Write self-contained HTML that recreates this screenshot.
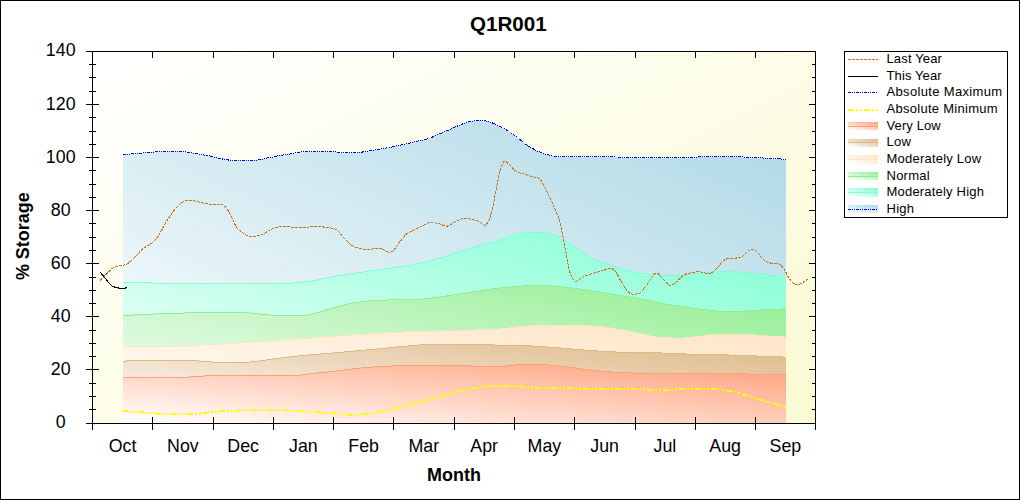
<!DOCTYPE html>
<html><head><meta charset="utf-8"><title>Q1R001</title>
<style>
html,body{margin:0;padding:0;background:#fff;}
body{width:1020px;height:500px;position:relative;overflow:hidden;font-family:"Liberation Sans",sans-serif;}
</style></head><body>
<svg width="1020" height="500" viewBox="0 0 1020 500" style="position:absolute;left:0;top:0;display:block">
<defs>
<linearGradient id="gchart" x1="0" y1="0" x2="1" y2="1"><stop offset="0" stop-color="#FFFFFF"/><stop offset="1" stop-color="#FAFAD2"/></linearGradient>
<linearGradient id="ghigh" x1="0" y1="1" x2="1" y2="0"><stop offset="0" stop-color="#FFFFFF"/><stop offset="1" stop-color="#ADD8E6"/></linearGradient>
<linearGradient id="gmhigh" x1="0" y1="1" x2="1" y2="0"><stop offset="0" stop-color="#FFFFFF"/><stop offset="1" stop-color="#7FFFD4"/></linearGradient>
<linearGradient id="gnormal" x1="0" y1="1" x2="1" y2="0"><stop offset="0" stop-color="#FFFFFF"/><stop offset="1" stop-color="#90EE90"/></linearGradient>
<linearGradient id="gmlow" x1="0" y1="1" x2="1" y2="0"><stop offset="0" stop-color="#FFFFFF"/><stop offset="1" stop-color="#FFE4C4"/></linearGradient>
<linearGradient id="glow" x1="0" y1="1" x2="1" y2="0"><stop offset="0" stop-color="#FFFFFF"/><stop offset="1" stop-color="#DEB887"/></linearGradient>
<linearGradient id="gvlow" x1="0" y1="1" x2="1" y2="0"><stop offset="0" stop-color="#FFFFFF"/><stop offset="1" stop-color="#FFA07A"/></linearGradient>
</defs>
<rect x="0" y="0" width="1020" height="500" fill="#FFFFFF"/>
<rect x="0.5" y="0.5" width="1019" height="499" fill="none" stroke="#000" stroke-width="1" shape-rendering="crispEdges"/>
<rect x="92" y="51" width="724" height="373" fill="url(#gchart)" shape-rendering="crispEdges"/>
<g shape-rendering="crispEdges">
<path d="M123,154.5 L124,154.4 L125,154.4 L126,154.3 L127,154.2 L128,154.1 L129,154.1 L130,154.0 L131,153.9 L132,153.8 L133,153.8 L134,153.7 L135,153.6 L136,153.5 L137,153.5 L138,153.4 L139,153.3 L140,153.2 L141,153.2 L142,153.1 L143,153.0 L144,152.9 L145,152.9 L146,152.8 L147,152.7 L148,152.6 L149,152.5 L150,152.4 L151,152.3 L152,152.2 L153,152.1 L154,152.0 L155,151.9 L156,151.8 L157,151.8 L158,151.7 L159,151.6 L160,151.6 L161,151.6 L162,151.5 L163,151.5 L164,151.5 L165,151.5 L166,151.5 L167,151.5 L168,151.5 L169,151.5 L170,151.5 L171,151.5 L172,151.5 L173,151.5 L174,151.5 L175,151.5 L176,151.5 L177,151.5 L178,151.5 L179,151.5 L180,151.5 L181,151.5 L182,151.6 L183,151.6 L184,151.7 L185,151.8 L186,152.0 L187,152.1 L188,152.3 L189,152.5 L190,152.6 L191,152.8 L192,153.0 L193,153.2 L194,153.4 L195,153.5 L196,153.7 L197,153.9 L198,154.0 L199,154.2 L200,154.3 L201,154.5 L202,154.7 L203,154.8 L204,155.0 L205,155.2 L206,155.4 L207,155.5 L208,155.7 L209,155.9 L210,156.1 L211,156.3 L212,156.5 L213,156.7 L214,156.9 L215,157.2 L216,157.4 L217,157.7 L218,158.0 L219,158.2 L220,158.5 L221,158.7 L222,158.9 L223,159.1 L224,159.3 L225,159.5 L226,159.6 L227,159.8 L228,159.9 L229,160.1 L230,160.2 L231,160.4 L232,160.5 L233,160.6 L234,160.6 L235,160.7 L236,160.7 L237,160.7 L238,160.7 L239,160.7 L240,160.7 L241,160.7 L242,160.7 L243,160.7 L244,160.7 L245,160.7 L246,160.7 L247,160.7 L248,160.7 L249,160.7 L250,160.7 L251,160.7 L252,160.7 L253,160.7 L254,160.6 L255,160.5 L256,160.4 L257,160.2 L258,160.0 L259,159.8 L260,159.6 L261,159.4 L262,159.2 L263,158.9 L264,158.7 L265,158.5 L266,158.3 L267,158.1 L268,157.9 L269,157.7 L270,157.5 L271,157.3 L272,157.1 L273,156.9 L274,156.7 L275,156.5 L276,156.3 L277,156.1 L278,155.9 L279,155.7 L280,155.5 L281,155.3 L282,155.2 L283,155.0 L284,154.9 L285,154.7 L286,154.6 L287,154.4 L288,154.3 L289,154.1 L290,154.0 L291,153.8 L292,153.6 L293,153.5 L294,153.3 L295,153.1 L296,152.9 L297,152.7 L298,152.5 L299,152.3 L300,152.2 L301,152.0 L302,151.8 L303,151.7 L304,151.6 L305,151.5 L306,151.5 L307,151.5 L308,151.5 L309,151.5 L310,151.5 L311,151.5 L312,151.5 L313,151.5 L314,151.5 L315,151.5 L316,151.5 L317,151.5 L318,151.5 L319,151.5 L320,151.5 L321,151.5 L322,151.5 L323,151.5 L324,151.5 L325,151.5 L326,151.5 L327,151.5 L328,151.5 L329,151.5 L330,151.5 L331,151.5 L332,151.5 L333,151.5 L334,151.5 L335,151.7 L336,152.0 L337,152.3 L338,152.5 L339,152.5 L340,152.5 L341,152.5 L342,152.5 L343,152.5 L344,152.5 L345,152.5 L346,152.5 L347,152.5 L348,152.5 L349,152.5 L350,152.5 L351,152.5 L352,152.5 L353,152.5 L354,152.5 L355,152.5 L356,152.5 L357,152.5 L358,152.4 L359,152.4 L360,152.3 L361,152.2 L362,152.1 L363,151.9 L364,151.8 L365,151.6 L366,151.5 L367,151.3 L368,151.1 L369,151.0 L370,150.8 L371,150.6 L372,150.5 L373,150.4 L374,150.2 L375,150.0 L376,149.9 L377,149.7 L378,149.5 L379,149.4 L380,149.2 L381,149.0 L382,148.8 L383,148.7 L384,148.5 L385,148.3 L386,148.1 L387,147.9 L388,147.7 L389,147.5 L390,147.3 L391,147.2 L392,147.0 L393,146.8 L394,146.6 L395,146.4 L396,146.1 L397,145.9 L398,145.7 L399,145.5 L400,145.3 L401,145.1 L402,144.9 L403,144.6 L404,144.4 L405,144.2 L406,143.9 L407,143.7 L408,143.4 L409,143.2 L410,142.9 L411,142.7 L412,142.5 L413,142.2 L414,142.0 L415,141.7 L416,141.5 L417,141.3 L418,141.0 L419,140.8 L420,140.6 L421,140.4 L422,140.2 L423,140.0 L424,139.7 L425,139.5 L426,139.3 L427,139.0 L428,138.7 L429,138.4 L430,138.0 L431,137.6 L432,137.2 L433,136.8 L434,136.4 L435,136.0 L436,135.5 L437,135.1 L438,134.6 L439,134.1 L440,133.7 L441,133.3 L442,132.8 L443,132.4 L444,132.0 L445,131.5 L446,131.1 L447,130.6 L448,130.2 L449,129.7 L450,129.2 L451,128.7 L452,128.3 L453,127.9 L454,127.4 L455,127.0 L456,126.6 L457,126.2 L458,125.8 L459,125.4 L460,125.0 L461,124.6 L462,124.2 L463,123.8 L464,123.5 L465,123.2 L466,122.8 L467,122.4 L468,122.1 L469,121.8 L470,121.5 L471,121.3 L472,121.1 L473,121.0 L474,120.8 L475,120.7 L476,120.5 L477,120.4 L478,120.4 L479,120.3 L480,120.3 L481,120.3 L482,120.4 L483,120.5 L484,120.7 L485,120.9 L486,121.1 L487,121.3 L488,121.5 L489,121.7 L490,122.0 L491,122.4 L492,122.8 L493,123.2 L494,123.6 L495,124.1 L496,124.5 L497,125.0 L498,125.5 L499,126.0 L500,126.5 L501,127.0 L502,127.5 L503,128.1 L504,128.6 L505,129.1 L506,129.7 L507,130.3 L508,130.9 L509,131.5 L510,132.1 L511,132.8 L512,133.5 L513,134.2 L514,135.0 L515,135.8 L516,136.6 L517,137.4 L518,138.2 L519,138.9 L520,139.7 L521,140.5 L522,141.2 L523,142.0 L524,142.8 L525,143.6 L526,144.4 L527,145.1 L528,145.8 L529,146.5 L530,147.1 L531,147.7 L532,148.3 L533,148.8 L534,149.3 L535,149.8 L536,150.3 L537,150.8 L538,151.2 L539,151.7 L540,152.1 L541,152.5 L542,152.9 L543,153.3 L544,153.7 L545,154.0 L546,154.4 L547,154.7 L548,154.9 L549,155.1 L550,155.4 L551,155.6 L552,155.8 L553,156.0 L554,156.2 L555,156.3 L556,156.4 L557,156.5 L558,156.5 L559,156.5 L560,156.5 L561,156.5 L562,156.5 L563,156.5 L564,156.5 L565,156.5 L566,156.5 L567,156.5 L568,156.5 L569,156.5 L570,156.5 L571,156.5 L572,156.5 L573,156.5 L574,156.5 L575,156.5 L576,156.5 L577,156.5 L578,156.5 L579,156.5 L580,156.5 L581,156.5 L582,156.5 L583,156.5 L584,156.5 L585,156.5 L586,156.5 L587,156.5 L588,156.5 L589,156.5 L590,156.5 L591,156.5 L592,156.5 L593,156.5 L594,156.5 L595,156.5 L596,156.5 L597,156.5 L598,156.5 L599,156.5 L600,156.5 L601,156.5 L602,156.5 L603,156.5 L604,156.5 L605,156.5 L606,156.5 L607,156.5 L608,156.5 L609,156.5 L610,156.5 L611,156.5 L612,156.5 L613,156.5 L614,156.5 L615,156.5 L616,156.5 L617,157.0 L618,157.5 L619,157.5 L620,157.5 L621,157.5 L622,157.5 L623,157.5 L624,157.5 L625,157.5 L626,157.5 L627,157.5 L628,157.5 L629,157.5 L630,157.5 L631,157.5 L632,157.5 L633,157.5 L634,157.5 L635,157.5 L636,157.5 L637,157.5 L638,157.5 L639,157.5 L640,157.5 L641,157.5 L642,157.5 L643,157.5 L644,157.5 L645,157.5 L646,157.5 L647,157.5 L648,157.5 L649,157.5 L650,157.5 L651,157.5 L652,157.5 L653,157.5 L654,157.5 L655,157.5 L656,157.5 L657,157.5 L658,157.5 L659,157.5 L660,157.5 L661,157.5 L662,157.5 L663,157.5 L664,157.5 L665,157.5 L666,157.5 L667,157.5 L668,157.5 L669,157.5 L670,157.5 L671,157.5 L672,157.5 L673,157.5 L674,157.5 L675,157.5 L676,157.5 L677,157.5 L678,157.5 L679,157.5 L680,157.5 L681,157.5 L682,157.5 L683,157.5 L684,157.5 L685,157.5 L686,157.5 L687,157.5 L688,157.5 L689,157.5 L690,157.5 L691,157.5 L692,157.5 L693,157.5 L694,157.5 L695,157.5 L696,157.5 L697,157.0 L698,156.5 L699,156.5 L700,156.5 L701,156.5 L702,156.5 L703,156.5 L704,156.5 L705,156.5 L706,156.5 L707,156.5 L708,156.5 L709,156.5 L710,156.5 L711,156.5 L712,156.5 L713,156.5 L714,156.5 L715,156.5 L716,156.5 L717,156.5 L718,156.5 L719,156.5 L720,156.5 L721,156.5 L722,156.5 L723,156.5 L724,156.5 L725,156.5 L726,156.5 L727,156.5 L728,156.5 L729,156.5 L730,156.5 L731,156.5 L732,156.5 L733,156.5 L734,156.5 L735,156.5 L736,156.5 L737,156.5 L738,156.5 L739,156.5 L740,156.5 L741,156.5 L742,156.5 L743,157.0 L744,157.5 L745,157.5 L746,157.5 L747,157.5 L748,157.5 L749,157.5 L750,157.5 L751,157.5 L752,157.5 L753,157.5 L754,157.5 L755,157.5 L756,157.5 L757,157.5 L758,157.5 L759,157.5 L760,157.5 L761,157.5 L762,157.5 L763,158.1 L764,158.7 L765,158.7 L766,158.7 L767,158.7 L768,158.7 L769,158.7 L770,158.7 L771,158.7 L772,158.7 L773,158.7 L774,158.7 L775,158.7 L776,158.7 L777,158.7 L778,158.7 L779,158.7 L780,158.7 L781,159.2 L782,159.7 L783,159.7 L784,159.7 L785,159.7 L786,159.7 L786,423.5 L123,423.5 Z" fill="url(#ghigh)" stroke="none"/>
<path d="M123,282.6 L124,282.6 L125,282.6 L126,282.6 L127,282.6 L128,282.6 L129,282.6 L130,282.6 L131,282.6 L132,282.6 L133,282.6 L134,282.7 L135,282.7 L136,282.7 L137,282.7 L138,282.7 L139,282.7 L140,282.7 L141,282.7 L142,282.8 L143,282.8 L144,282.8 L145,282.8 L146,282.8 L147,282.8 L148,282.9 L149,282.9 L150,282.9 L151,282.9 L152,283.0 L153,283.1 L154,283.2 L155,283.2 L156,283.3 L157,283.4 L158,283.4 L159,283.4 L160,283.4 L161,283.4 L162,283.4 L163,283.5 L164,283.5 L165,283.5 L166,283.5 L167,283.5 L168,283.5 L169,283.5 L170,283.5 L171,283.5 L172,283.5 L173,283.5 L174,283.5 L175,283.5 L176,283.5 L177,283.5 L178,283.6 L179,283.6 L180,283.6 L181,283.6 L182,283.6 L183,283.6 L184,283.6 L185,283.6 L186,283.6 L187,283.6 L188,283.6 L189,283.6 L190,283.6 L191,283.6 L192,283.6 L193,283.6 L194,283.6 L195,283.6 L196,283.6 L197,283.6 L198,283.6 L199,283.6 L200,283.6 L201,283.6 L202,283.6 L203,283.6 L204,283.6 L205,283.6 L206,283.6 L207,283.6 L208,283.6 L209,283.6 L210,283.6 L211,283.6 L212,283.6 L213,283.6 L214,283.6 L215,283.6 L216,283.6 L217,283.6 L218,283.6 L219,283.6 L220,283.6 L221,283.6 L222,283.6 L223,283.6 L224,283.6 L225,283.6 L226,283.6 L227,283.6 L228,283.6 L229,283.6 L230,283.6 L231,283.6 L232,283.6 L233,283.6 L234,283.6 L235,283.6 L236,283.6 L237,283.6 L238,283.6 L239,283.6 L240,283.6 L241,283.6 L242,283.6 L243,283.6 L244,283.6 L245,283.6 L246,283.6 L247,283.6 L248,283.6 L249,283.6 L250,283.6 L251,283.6 L252,283.6 L253,283.6 L254,283.6 L255,283.6 L256,283.6 L257,283.6 L258,283.6 L259,283.6 L260,283.6 L261,283.6 L262,283.6 L263,283.6 L264,283.6 L265,283.6 L266,283.6 L267,283.5 L268,283.5 L269,283.5 L270,283.5 L271,283.5 L272,283.5 L273,283.5 L274,283.5 L275,283.5 L276,283.5 L277,283.5 L278,283.5 L279,283.5 L280,283.5 L281,283.5 L282,283.5 L283,283.5 L284,283.5 L285,283.5 L286,283.5 L287,283.5 L288,283.4 L289,283.3 L290,283.1 L291,283.0 L292,282.9 L293,282.8 L294,282.7 L295,282.6 L296,282.5 L297,282.4 L298,282.3 L299,282.3 L300,282.2 L301,282.1 L302,282.0 L303,282.0 L304,281.9 L305,281.8 L306,281.7 L307,281.6 L308,281.5 L309,281.3 L310,281.2 L311,281.0 L312,280.9 L313,280.7 L314,280.5 L315,280.3 L316,280.2 L317,280.0 L318,279.8 L319,279.6 L320,279.3 L321,279.1 L322,278.9 L323,278.7 L324,278.5 L325,278.3 L326,278.1 L327,277.8 L328,277.6 L329,277.4 L330,277.2 L331,277.0 L332,276.8 L333,276.6 L334,276.4 L335,276.3 L336,276.1 L337,275.9 L338,275.8 L339,275.6 L340,275.4 L341,275.3 L342,275.1 L343,275.0 L344,274.8 L345,274.7 L346,274.5 L347,274.4 L348,274.2 L349,274.0 L350,273.9 L351,273.7 L352,273.6 L353,273.5 L354,273.3 L355,273.2 L356,273.0 L357,272.9 L358,272.7 L359,272.6 L360,272.4 L361,272.3 L362,272.1 L363,272.0 L364,271.9 L365,271.7 L366,271.6 L367,271.4 L368,271.3 L369,271.1 L370,271.0 L371,270.8 L372,270.7 L373,270.5 L374,270.4 L375,270.2 L376,270.1 L377,270.0 L378,269.8 L379,269.7 L380,269.5 L381,269.4 L382,269.2 L383,269.1 L384,269.0 L385,268.8 L386,268.7 L387,268.5 L388,268.4 L389,268.3 L390,268.1 L391,268.0 L392,267.9 L393,267.7 L394,267.6 L395,267.5 L396,267.3 L397,267.2 L398,267.0 L399,266.9 L400,266.7 L401,266.6 L402,266.5 L403,266.3 L404,266.2 L405,266.0 L406,265.8 L407,265.7 L408,265.5 L409,265.4 L410,265.2 L411,265.0 L412,264.8 L413,264.7 L414,264.5 L415,264.3 L416,264.1 L417,263.9 L418,263.7 L419,263.5 L420,263.3 L421,263.0 L422,262.8 L423,262.6 L424,262.3 L425,262.1 L426,261.8 L427,261.6 L428,261.3 L429,261.0 L430,260.8 L431,260.5 L432,260.2 L433,259.9 L434,259.7 L435,259.4 L436,259.1 L437,258.8 L438,258.5 L439,258.2 L440,257.9 L441,257.6 L442,257.3 L443,257.0 L444,256.6 L445,256.3 L446,256.0 L447,255.7 L448,255.3 L449,255.0 L450,254.7 L451,254.3 L452,254.0 L453,253.7 L454,253.3 L455,253.0 L456,252.7 L457,252.4 L458,252.1 L459,251.8 L460,251.4 L461,251.1 L462,250.8 L463,250.5 L464,250.2 L465,249.9 L466,249.5 L467,249.2 L468,248.9 L469,248.6 L470,248.3 L471,248.0 L472,247.7 L473,247.4 L474,247.1 L475,246.8 L476,246.5 L477,246.2 L478,245.9 L479,245.6 L480,245.4 L481,245.1 L482,244.8 L483,244.6 L484,244.3 L485,244.0 L486,243.8 L487,243.5 L488,243.2 L489,243.0 L490,242.7 L491,242.4 L492,242.2 L493,241.9 L494,241.6 L495,241.3 L496,241.0 L497,240.7 L498,240.4 L499,240.1 L500,239.8 L501,239.4 L502,239.0 L503,238.7 L504,238.3 L505,237.9 L506,237.5 L507,237.1 L508,236.8 L509,236.4 L510,236.1 L511,235.8 L512,235.5 L513,235.2 L514,234.9 L515,234.6 L516,234.4 L517,234.1 L518,233.9 L519,233.7 L520,233.5 L521,233.3 L522,233.2 L523,233.0 L524,232.8 L525,232.7 L526,232.6 L527,232.4 L528,232.3 L529,232.2 L530,232.2 L531,232.1 L532,232.1 L533,232.1 L534,232.1 L535,232.1 L536,232.1 L537,232.2 L538,232.2 L539,232.2 L540,232.3 L541,232.3 L542,232.4 L543,232.4 L544,232.5 L545,232.6 L546,232.7 L547,232.9 L548,233.2 L549,233.4 L550,233.8 L551,234.1 L552,234.4 L553,234.8 L554,235.1 L555,235.5 L556,235.9 L557,236.3 L558,236.8 L559,237.3 L560,237.9 L561,238.4 L562,239.0 L563,239.5 L564,240.1 L565,240.7 L566,241.3 L567,241.9 L568,242.5 L569,243.2 L570,243.9 L571,244.5 L572,245.2 L573,245.8 L574,246.5 L575,247.2 L576,247.8 L577,248.5 L578,249.2 L579,249.8 L580,250.5 L581,251.2 L582,251.8 L583,252.5 L584,253.1 L585,253.7 L586,254.4 L587,255.0 L588,255.6 L589,256.2 L590,256.9 L591,257.5 L592,258.0 L593,258.6 L594,259.1 L595,259.6 L596,260.1 L597,260.5 L598,261.0 L599,261.4 L600,261.7 L601,262.1 L602,262.5 L603,262.8 L604,263.2 L605,263.5 L606,263.8 L607,264.2 L608,264.5 L609,264.8 L610,265.1 L611,265.5 L612,265.8 L613,266.1 L614,266.4 L615,266.7 L616,267.0 L617,267.3 L618,267.5 L619,267.8 L620,268.1 L621,268.4 L622,268.7 L623,268.9 L624,269.2 L625,269.5 L626,269.7 L627,270.0 L628,270.3 L629,270.5 L630,270.8 L631,271.0 L632,271.3 L633,271.5 L634,271.7 L635,271.9 L636,272.1 L637,272.3 L638,272.5 L639,272.7 L640,272.8 L641,273.0 L642,273.2 L643,273.4 L644,273.5 L645,273.7 L646,273.8 L647,274.0 L648,274.1 L649,274.2 L650,274.3 L651,274.4 L652,274.5 L653,274.6 L654,274.7 L655,274.7 L656,274.8 L657,274.9 L658,275.0 L659,275.0 L660,275.1 L661,275.2 L662,275.2 L663,275.3 L664,275.3 L665,275.4 L666,275.4 L667,275.5 L668,275.5 L669,275.5 L670,275.5 L671,275.5 L672,275.5 L673,275.5 L674,275.5 L675,275.4 L676,275.4 L677,275.4 L678,275.3 L679,275.3 L680,275.3 L681,275.2 L682,275.2 L683,275.1 L684,275.1 L685,275.0 L686,275.0 L687,274.9 L688,274.8 L689,274.6 L690,274.5 L691,274.4 L692,274.2 L693,274.1 L694,273.9 L695,273.8 L696,273.6 L697,273.5 L698,273.3 L699,273.2 L700,273.1 L701,273.0 L702,272.9 L703,272.8 L704,272.7 L705,272.6 L706,272.4 L707,272.3 L708,272.2 L709,272.1 L710,272.0 L711,271.9 L712,271.8 L713,271.7 L714,271.6 L715,271.5 L716,271.4 L717,271.4 L718,271.3 L719,271.2 L720,271.2 L721,271.2 L722,271.1 L723,271.1 L724,271.1 L725,271.1 L726,271.1 L727,271.2 L728,271.2 L729,271.2 L730,271.3 L731,271.4 L732,271.4 L733,271.5 L734,271.6 L735,271.7 L736,271.8 L737,271.9 L738,272.0 L739,272.0 L740,272.1 L741,272.2 L742,272.3 L743,272.4 L744,272.5 L745,272.6 L746,272.7 L747,272.8 L748,272.9 L749,273.0 L750,273.1 L751,273.2 L752,273.3 L753,273.4 L754,273.5 L755,273.6 L756,273.7 L757,273.8 L758,273.9 L759,274.0 L760,274.1 L761,274.2 L762,274.3 L763,274.4 L764,274.5 L765,274.6 L766,274.7 L767,274.8 L768,274.9 L769,275.0 L770,275.1 L771,275.2 L772,275.3 L773,275.3 L774,275.4 L775,275.5 L776,275.6 L777,275.7 L778,275.8 L779,275.9 L780,276.0 L781,276.1 L782,276.2 L783,276.2 L784,276.3 L785,276.4 L786,276.5 L786,423.5 L123,423.5 Z" fill="url(#gmhigh)" stroke="none"/>
<path d="M123,282.6 L124,282.6 L125,282.6 L126,282.6 L127,282.6 L128,282.6 L129,282.6 L130,282.6 L131,282.6 L132,282.6 L133,282.6 L134,282.7 L135,282.7 L136,282.7 L137,282.7 L138,282.7 L139,282.7 L140,282.7 L141,282.7 L142,282.8 L143,282.8 L144,282.8 L145,282.8 L146,282.8 L147,282.8 L148,282.9 L149,282.9 L150,282.9 L151,282.9 L152,283.0 L153,283.1 L154,283.2 L155,283.2 L156,283.3 L157,283.4 L158,283.4 L159,283.4 L160,283.4 L161,283.4 L162,283.4 L163,283.5 L164,283.5 L165,283.5 L166,283.5 L167,283.5 L168,283.5 L169,283.5 L170,283.5 L171,283.5 L172,283.5 L173,283.5 L174,283.5 L175,283.5 L176,283.5 L177,283.5 L178,283.6 L179,283.6 L180,283.6 L181,283.6 L182,283.6 L183,283.6 L184,283.6 L185,283.6 L186,283.6 L187,283.6 L188,283.6 L189,283.6 L190,283.6 L191,283.6 L192,283.6 L193,283.6 L194,283.6 L195,283.6 L196,283.6 L197,283.6 L198,283.6 L199,283.6 L200,283.6 L201,283.6 L202,283.6 L203,283.6 L204,283.6 L205,283.6 L206,283.6 L207,283.6 L208,283.6 L209,283.6 L210,283.6 L211,283.6 L212,283.6 L213,283.6 L214,283.6 L215,283.6 L216,283.6 L217,283.6 L218,283.6 L219,283.6 L220,283.6 L221,283.6 L222,283.6 L223,283.6 L224,283.6 L225,283.6 L226,283.6 L227,283.6 L228,283.6 L229,283.6 L230,283.6 L231,283.6 L232,283.6 L233,283.6 L234,283.6 L235,283.6 L236,283.6 L237,283.6 L238,283.6 L239,283.6 L240,283.6 L241,283.6 L242,283.6 L243,283.6 L244,283.6 L245,283.6 L246,283.6 L247,283.6 L248,283.6 L249,283.6 L250,283.6 L251,283.6 L252,283.6 L253,283.6 L254,283.6 L255,283.6 L256,283.6 L257,283.6 L258,283.6 L259,283.6 L260,283.6 L261,283.6 L262,283.6 L263,283.6 L264,283.6 L265,283.6 L266,283.6 L267,283.5 L268,283.5 L269,283.5 L270,283.5 L271,283.5 L272,283.5 L273,283.5 L274,283.5 L275,283.5 L276,283.5 L277,283.5 L278,283.5 L279,283.5 L280,283.5 L281,283.5 L282,283.5 L283,283.5 L284,283.5 L285,283.5 L286,283.5 L287,283.5 L288,283.4 L289,283.3 L290,283.1 L291,283.0 L292,282.9 L293,282.8 L294,282.7 L295,282.6 L296,282.5 L297,282.4 L298,282.3 L299,282.3 L300,282.2 L301,282.1 L302,282.0 L303,282.0 L304,281.9 L305,281.8 L306,281.7 L307,281.6 L308,281.5 L309,281.3 L310,281.2 L311,281.0 L312,280.9 L313,280.7 L314,280.5 L315,280.3 L316,280.2 L317,280.0 L318,279.8 L319,279.6 L320,279.3 L321,279.1 L322,278.9 L323,278.7 L324,278.5 L325,278.3 L326,278.1 L327,277.8 L328,277.6 L329,277.4 L330,277.2 L331,277.0 L332,276.8 L333,276.6 L334,276.4 L335,276.3 L336,276.1 L337,275.9 L338,275.8 L339,275.6 L340,275.4 L341,275.3 L342,275.1 L343,275.0 L344,274.8 L345,274.7 L346,274.5 L347,274.4 L348,274.2 L349,274.0 L350,273.9 L351,273.7 L352,273.6 L353,273.5 L354,273.3 L355,273.2 L356,273.0 L357,272.9 L358,272.7 L359,272.6 L360,272.4 L361,272.3 L362,272.1 L363,272.0 L364,271.9 L365,271.7 L366,271.6 L367,271.4 L368,271.3 L369,271.1 L370,271.0 L371,270.8 L372,270.7 L373,270.5 L374,270.4 L375,270.2 L376,270.1 L377,270.0 L378,269.8 L379,269.7 L380,269.5 L381,269.4 L382,269.2 L383,269.1 L384,269.0 L385,268.8 L386,268.7 L387,268.5 L388,268.4 L389,268.3 L390,268.1 L391,268.0 L392,267.9 L393,267.7 L394,267.6 L395,267.5 L396,267.3 L397,267.2 L398,267.0 L399,266.9 L400,266.7 L401,266.6 L402,266.5 L403,266.3 L404,266.2 L405,266.0 L406,265.8 L407,265.7 L408,265.5 L409,265.4 L410,265.2 L411,265.0 L412,264.8 L413,264.7 L414,264.5 L415,264.3 L416,264.1 L417,263.9 L418,263.7 L419,263.5 L420,263.3 L421,263.0 L422,262.8 L423,262.6 L424,262.3 L425,262.1 L426,261.8 L427,261.6 L428,261.3 L429,261.0 L430,260.8 L431,260.5 L432,260.2 L433,259.9 L434,259.7 L435,259.4 L436,259.1 L437,258.8 L438,258.5 L439,258.2 L440,257.9 L441,257.6 L442,257.3 L443,257.0 L444,256.6 L445,256.3 L446,256.0 L447,255.7 L448,255.3 L449,255.0 L450,254.7 L451,254.3 L452,254.0 L453,253.7 L454,253.3 L455,253.0 L456,252.7 L457,252.4 L458,252.1 L459,251.8 L460,251.4 L461,251.1 L462,250.8 L463,250.5 L464,250.2 L465,249.9 L466,249.5 L467,249.2 L468,248.9 L469,248.6 L470,248.3 L471,248.0 L472,247.7 L473,247.4 L474,247.1 L475,246.8 L476,246.5 L477,246.2 L478,245.9 L479,245.6 L480,245.4 L481,245.1 L482,244.8 L483,244.6 L484,244.3 L485,244.0 L486,243.8 L487,243.5 L488,243.2 L489,243.0 L490,242.7 L491,242.4 L492,242.2 L493,241.9 L494,241.6 L495,241.3 L496,241.0 L497,240.7 L498,240.4 L499,240.1 L500,239.8 L501,239.4 L502,239.0 L503,238.7 L504,238.3 L505,237.9 L506,237.5 L507,237.1 L508,236.8 L509,236.4 L510,236.1 L511,235.8 L512,235.5 L513,235.2 L514,234.9 L515,234.6 L516,234.4 L517,234.1 L518,233.9 L519,233.7 L520,233.5 L521,233.3 L522,233.2 L523,233.0 L524,232.8 L525,232.7 L526,232.6 L527,232.4 L528,232.3 L529,232.2 L530,232.2 L531,232.1 L532,232.1 L533,232.1 L534,232.1 L535,232.1 L536,232.1 L537,232.2 L538,232.2 L539,232.2 L540,232.3 L541,232.3 L542,232.4 L543,232.4 L544,232.5 L545,232.6 L546,232.7 L547,232.9 L548,233.2 L549,233.4 L550,233.8 L551,234.1 L552,234.4 L553,234.8 L554,235.1 L555,235.5 L556,235.9 L557,236.3 L558,236.8 L559,237.3 L560,237.9 L561,238.4 L562,239.0 L563,239.5 L564,240.1 L565,240.7 L566,241.3 L567,241.9 L568,242.5 L569,243.2 L570,243.9 L571,244.5 L572,245.2 L573,245.8 L574,246.5 L575,247.2 L576,247.8 L577,248.5 L578,249.2 L579,249.8 L580,250.5 L581,251.2 L582,251.8 L583,252.5 L584,253.1 L585,253.7 L586,254.4 L587,255.0 L588,255.6 L589,256.2 L590,256.9 L591,257.5 L592,258.0 L593,258.6 L594,259.1 L595,259.6 L596,260.1 L597,260.5 L598,261.0 L599,261.4 L600,261.7 L601,262.1 L602,262.5 L603,262.8 L604,263.2 L605,263.5 L606,263.8 L607,264.2 L608,264.5 L609,264.8 L610,265.1 L611,265.5 L612,265.8 L613,266.1 L614,266.4 L615,266.7 L616,267.0 L617,267.3 L618,267.5 L619,267.8 L620,268.1 L621,268.4 L622,268.7 L623,268.9 L624,269.2 L625,269.5 L626,269.7 L627,270.0 L628,270.3 L629,270.5 L630,270.8 L631,271.0 L632,271.3 L633,271.5 L634,271.7 L635,271.9 L636,272.1 L637,272.3 L638,272.5 L639,272.7 L640,272.8 L641,273.0 L642,273.2 L643,273.4 L644,273.5 L645,273.7 L646,273.8 L647,274.0 L648,274.1 L649,274.2 L650,274.3 L651,274.4 L652,274.5 L653,274.6 L654,274.7 L655,274.7 L656,274.8 L657,274.9 L658,275.0 L659,275.0 L660,275.1 L661,275.2 L662,275.2 L663,275.3 L664,275.3 L665,275.4 L666,275.4 L667,275.5 L668,275.5 L669,275.5 L670,275.5 L671,275.5 L672,275.5 L673,275.5 L674,275.5 L675,275.4 L676,275.4 L677,275.4 L678,275.3 L679,275.3 L680,275.3 L681,275.2 L682,275.2 L683,275.1 L684,275.1 L685,275.0 L686,275.0 L687,274.9 L688,274.8 L689,274.6 L690,274.5 L691,274.4 L692,274.2 L693,274.1 L694,273.9 L695,273.8 L696,273.6 L697,273.5 L698,273.3 L699,273.2 L700,273.1 L701,273.0 L702,272.9 L703,272.8 L704,272.7 L705,272.6 L706,272.4 L707,272.3 L708,272.2 L709,272.1 L710,272.0 L711,271.9 L712,271.8 L713,271.7 L714,271.6 L715,271.5 L716,271.4 L717,271.4 L718,271.3 L719,271.2 L720,271.2 L721,271.2 L722,271.1 L723,271.1 L724,271.1 L725,271.1 L726,271.1 L727,271.2 L728,271.2 L729,271.2 L730,271.3 L731,271.4 L732,271.4 L733,271.5 L734,271.6 L735,271.7 L736,271.8 L737,271.9 L738,272.0 L739,272.0 L740,272.1 L741,272.2 L742,272.3 L743,272.4 L744,272.5 L745,272.6 L746,272.7 L747,272.8 L748,272.9 L749,273.0 L750,273.1 L751,273.2 L752,273.3 L753,273.4 L754,273.5 L755,273.6 L756,273.7 L757,273.8 L758,273.9 L759,274.0 L760,274.1 L761,274.2 L762,274.3 L763,274.4 L764,274.5 L765,274.6 L766,274.7 L767,274.8 L768,274.9 L769,275.0 L770,275.1 L771,275.2 L772,275.3 L773,275.3 L774,275.4 L775,275.5 L776,275.6 L777,275.7 L778,275.8 L779,275.9 L780,276.0 L781,276.1 L782,276.2 L783,276.2 L784,276.3 L785,276.4 L786,276.5" fill="none" stroke="#7FFFD4" stroke-width="1"/>
<path d="M123,315.7 L124,315.6 L125,315.6 L126,315.5 L127,315.4 L128,315.4 L129,315.3 L130,315.3 L131,315.2 L132,315.1 L133,315.1 L134,315.0 L135,314.9 L136,314.9 L137,314.8 L138,314.8 L139,314.7 L140,314.7 L141,314.6 L142,314.5 L143,314.5 L144,314.4 L145,314.4 L146,314.3 L147,314.3 L148,314.2 L149,314.2 L150,314.1 L151,314.1 L152,314.0 L153,314.0 L154,314.0 L155,313.9 L156,313.9 L157,313.8 L158,313.8 L159,313.7 L160,313.7 L161,313.7 L162,313.6 L163,313.6 L164,313.6 L165,313.5 L166,313.5 L167,313.5 L168,313.4 L169,313.4 L170,313.4 L171,313.3 L172,313.3 L173,313.3 L174,313.3 L175,313.2 L176,313.2 L177,313.2 L178,313.1 L179,313.1 L180,313.1 L181,313.0 L182,313.0 L183,313.0 L184,313.0 L185,312.9 L186,312.9 L187,312.9 L188,312.8 L189,312.8 L190,312.8 L191,312.8 L192,312.8 L193,312.7 L194,312.7 L195,312.7 L196,312.7 L197,312.6 L198,312.6 L199,312.6 L200,312.6 L201,312.6 L202,312.6 L203,312.6 L204,312.5 L205,312.5 L206,312.5 L207,312.5 L208,312.5 L209,312.5 L210,312.5 L211,312.5 L212,312.5 L213,312.5 L214,312.5 L215,312.5 L216,312.5 L217,312.5 L218,312.5 L219,312.5 L220,312.5 L221,312.5 L222,312.5 L223,312.5 L224,312.5 L225,312.5 L226,312.5 L227,312.5 L228,312.5 L229,312.5 L230,312.5 L231,312.5 L232,312.5 L233,312.5 L234,312.5 L235,312.5 L236,312.5 L237,312.5 L238,312.5 L239,312.5 L240,312.5 L241,312.5 L242,312.5 L243,312.6 L244,312.6 L245,312.6 L246,312.7 L247,312.8 L248,312.8 L249,312.9 L250,313.0 L251,313.1 L252,313.2 L253,313.3 L254,313.4 L255,313.5 L256,313.6 L257,313.8 L258,313.9 L259,314.0 L260,314.1 L261,314.2 L262,314.3 L263,314.4 L264,314.5 L265,314.6 L266,314.7 L267,314.8 L268,314.9 L269,314.9 L270,315.0 L271,315.1 L272,315.1 L273,315.1 L274,315.2 L275,315.2 L276,315.3 L277,315.3 L278,315.3 L279,315.4 L280,315.4 L281,315.4 L282,315.5 L283,315.5 L284,315.5 L285,315.6 L286,315.6 L287,315.6 L288,315.6 L289,315.6 L290,315.7 L291,315.7 L292,315.7 L293,315.7 L294,315.7 L295,315.7 L296,315.7 L297,315.7 L298,315.6 L299,315.6 L300,315.5 L301,315.5 L302,315.4 L303,315.3 L304,315.3 L305,315.2 L306,315.1 L307,315.0 L308,314.9 L309,314.7 L310,314.5 L311,314.3 L312,314.1 L313,313.8 L314,313.6 L315,313.3 L316,313.1 L317,312.9 L318,312.6 L319,312.3 L320,312.0 L321,311.7 L322,311.4 L323,311.1 L324,310.8 L325,310.5 L326,310.2 L327,309.8 L328,309.5 L329,309.2 L330,308.9 L331,308.5 L332,308.2 L333,307.9 L334,307.6 L335,307.4 L336,307.1 L337,306.8 L338,306.6 L339,306.3 L340,306.0 L341,305.8 L342,305.5 L343,305.3 L344,305.0 L345,304.7 L346,304.5 L347,304.3 L348,304.0 L349,303.8 L350,303.6 L351,303.4 L352,303.2 L353,303.0 L354,302.8 L355,302.6 L356,302.5 L357,302.4 L358,302.2 L359,302.1 L360,302.0 L361,301.8 L362,301.7 L363,301.6 L364,301.5 L365,301.4 L366,301.3 L367,301.2 L368,301.1 L369,301.0 L370,300.9 L371,300.8 L372,300.8 L373,300.7 L374,300.6 L375,300.6 L376,300.5 L377,300.4 L378,300.4 L379,300.3 L380,300.3 L381,300.2 L382,300.2 L383,300.1 L384,300.1 L385,300.1 L386,300.0 L387,300.0 L388,299.9 L389,299.9 L390,299.9 L391,299.8 L392,299.8 L393,299.8 L394,299.8 L395,299.7 L396,299.7 L397,299.7 L398,299.7 L399,299.6 L400,299.6 L401,299.6 L402,299.6 L403,299.6 L404,299.6 L405,299.6 L406,299.5 L407,299.5 L408,299.5 L409,299.5 L410,299.5 L411,299.5 L412,299.5 L413,299.5 L414,299.4 L415,299.4 L416,299.4 L417,299.4 L418,299.4 L419,299.3 L420,299.3 L421,299.3 L422,299.2 L423,299.1 L424,299.0 L425,298.9 L426,298.8 L427,298.7 L428,298.6 L429,298.5 L430,298.3 L431,298.2 L432,298.0 L433,297.9 L434,297.8 L435,297.6 L436,297.5 L437,297.4 L438,297.2 L439,297.1 L440,297.0 L441,296.8 L442,296.7 L443,296.5 L444,296.4 L445,296.2 L446,296.1 L447,295.9 L448,295.7 L449,295.6 L450,295.4 L451,295.3 L452,295.1 L453,295.0 L454,294.8 L455,294.7 L456,294.5 L457,294.3 L458,294.2 L459,294.0 L460,293.9 L461,293.7 L462,293.6 L463,293.4 L464,293.3 L465,293.1 L466,293.0 L467,292.8 L468,292.7 L469,292.5 L470,292.4 L471,292.2 L472,292.1 L473,291.9 L474,291.8 L475,291.6 L476,291.5 L477,291.3 L478,291.2 L479,291.0 L480,290.9 L481,290.7 L482,290.6 L483,290.4 L484,290.3 L485,290.1 L486,289.9 L487,289.8 L488,289.6 L489,289.5 L490,289.3 L491,289.2 L492,289.0 L493,288.9 L494,288.7 L495,288.6 L496,288.5 L497,288.3 L498,288.2 L499,288.1 L500,288.0 L501,287.9 L502,287.8 L503,287.7 L504,287.6 L505,287.5 L506,287.4 L507,287.3 L508,287.2 L509,287.1 L510,287.0 L511,286.9 L512,286.8 L513,286.7 L514,286.7 L515,286.6 L516,286.5 L517,286.4 L518,286.3 L519,286.3 L520,286.2 L521,286.1 L522,286.0 L523,285.9 L524,285.9 L525,285.8 L526,285.7 L527,285.7 L528,285.6 L529,285.6 L530,285.5 L531,285.5 L532,285.5 L533,285.5 L534,285.5 L535,285.5 L536,285.5 L537,285.5 L538,285.5 L539,285.5 L540,285.6 L541,285.6 L542,285.6 L543,285.6 L544,285.6 L545,285.6 L546,285.7 L547,285.7 L548,285.7 L549,285.7 L550,285.8 L551,285.8 L552,285.9 L553,286.0 L554,286.0 L555,286.1 L556,286.2 L557,286.3 L558,286.4 L559,286.6 L560,286.7 L561,286.8 L562,286.9 L563,287.0 L564,287.1 L565,287.2 L566,287.3 L567,287.4 L568,287.5 L569,287.7 L570,287.8 L571,287.9 L572,288.0 L573,288.2 L574,288.3 L575,288.4 L576,288.6 L577,288.7 L578,288.8 L579,289.0 L580,289.1 L581,289.2 L582,289.4 L583,289.5 L584,289.7 L585,289.8 L586,289.9 L587,290.1 L588,290.2 L589,290.4 L590,290.5 L591,290.7 L592,290.8 L593,291.0 L594,291.2 L595,291.3 L596,291.5 L597,291.6 L598,291.8 L599,291.9 L600,292.1 L601,292.3 L602,292.4 L603,292.6 L604,292.8 L605,292.9 L606,293.1 L607,293.3 L608,293.4 L609,293.6 L610,293.8 L611,294.0 L612,294.1 L613,294.3 L614,294.5 L615,294.6 L616,294.8 L617,295.0 L618,295.2 L619,295.3 L620,295.5 L621,295.7 L622,295.8 L623,296.0 L624,296.2 L625,296.3 L626,296.5 L627,296.6 L628,296.8 L629,296.9 L630,297.1 L631,297.3 L632,297.4 L633,297.6 L634,297.7 L635,297.9 L636,298.1 L637,298.2 L638,298.4 L639,298.6 L640,298.8 L641,298.9 L642,299.1 L643,299.3 L644,299.5 L645,299.7 L646,299.9 L647,300.1 L648,300.4 L649,300.6 L650,300.8 L651,301.1 L652,301.3 L653,301.6 L654,301.8 L655,302.0 L656,302.3 L657,302.5 L658,302.7 L659,302.9 L660,303.1 L661,303.3 L662,303.5 L663,303.6 L664,303.8 L665,303.9 L666,304.1 L667,304.2 L668,304.4 L669,304.5 L670,304.7 L671,304.8 L672,305.0 L673,305.1 L674,305.2 L675,305.4 L676,305.5 L677,305.7 L678,305.8 L679,306.0 L680,306.1 L681,306.3 L682,306.4 L683,306.6 L684,306.7 L685,306.9 L686,307.0 L687,307.2 L688,307.4 L689,307.5 L690,307.7 L691,307.8 L692,308.0 L693,308.1 L694,308.3 L695,308.4 L696,308.6 L697,308.7 L698,308.8 L699,309.0 L700,309.1 L701,309.2 L702,309.4 L703,309.5 L704,309.6 L705,309.8 L706,309.9 L707,310.0 L708,310.1 L709,310.3 L710,310.4 L711,310.5 L712,310.6 L713,310.7 L714,310.8 L715,310.9 L716,311.0 L717,311.0 L718,311.1 L719,311.1 L720,311.1 L721,311.1 L722,311.1 L723,311.1 L724,311.1 L725,311.1 L726,311.1 L727,311.1 L728,311.1 L729,311.1 L730,311.1 L731,311.1 L732,311.1 L733,311.1 L734,311.1 L735,311.1 L736,311.1 L737,311.1 L738,311.1 L739,311.1 L740,311.1 L741,311.1 L742,311.1 L743,311.1 L744,311.0 L745,311.0 L746,310.9 L747,310.9 L748,310.8 L749,310.8 L750,310.7 L751,310.7 L752,310.6 L753,310.5 L754,310.5 L755,310.4 L756,310.3 L757,310.3 L758,310.2 L759,310.2 L760,310.1 L761,310.0 L762,310.0 L763,309.9 L764,309.9 L765,309.8 L766,309.8 L767,309.7 L768,309.7 L769,309.6 L770,309.6 L771,309.5 L772,309.5 L773,309.4 L774,309.4 L775,309.3 L776,309.3 L777,309.2 L778,309.1 L779,309.1 L780,309.0 L781,309.0 L782,308.9 L783,308.9 L784,308.8 L785,308.8 L786,308.7 L786,423.5 L123,423.5 Z" fill="url(#gnormal)" stroke="none"/>
<path d="M123,315.7 L124,315.6 L125,315.6 L126,315.5 L127,315.4 L128,315.4 L129,315.3 L130,315.3 L131,315.2 L132,315.1 L133,315.1 L134,315.0 L135,314.9 L136,314.9 L137,314.8 L138,314.8 L139,314.7 L140,314.7 L141,314.6 L142,314.5 L143,314.5 L144,314.4 L145,314.4 L146,314.3 L147,314.3 L148,314.2 L149,314.2 L150,314.1 L151,314.1 L152,314.0 L153,314.0 L154,314.0 L155,313.9 L156,313.9 L157,313.8 L158,313.8 L159,313.7 L160,313.7 L161,313.7 L162,313.6 L163,313.6 L164,313.6 L165,313.5 L166,313.5 L167,313.5 L168,313.4 L169,313.4 L170,313.4 L171,313.3 L172,313.3 L173,313.3 L174,313.3 L175,313.2 L176,313.2 L177,313.2 L178,313.1 L179,313.1 L180,313.1 L181,313.0 L182,313.0 L183,313.0 L184,313.0 L185,312.9 L186,312.9 L187,312.9 L188,312.8 L189,312.8 L190,312.8 L191,312.8 L192,312.8 L193,312.7 L194,312.7 L195,312.7 L196,312.7 L197,312.6 L198,312.6 L199,312.6 L200,312.6 L201,312.6 L202,312.6 L203,312.6 L204,312.5 L205,312.5 L206,312.5 L207,312.5 L208,312.5 L209,312.5 L210,312.5 L211,312.5 L212,312.5 L213,312.5 L214,312.5 L215,312.5 L216,312.5 L217,312.5 L218,312.5 L219,312.5 L220,312.5 L221,312.5 L222,312.5 L223,312.5 L224,312.5 L225,312.5 L226,312.5 L227,312.5 L228,312.5 L229,312.5 L230,312.5 L231,312.5 L232,312.5 L233,312.5 L234,312.5 L235,312.5 L236,312.5 L237,312.5 L238,312.5 L239,312.5 L240,312.5 L241,312.5 L242,312.5 L243,312.6 L244,312.6 L245,312.6 L246,312.7 L247,312.8 L248,312.8 L249,312.9 L250,313.0 L251,313.1 L252,313.2 L253,313.3 L254,313.4 L255,313.5 L256,313.6 L257,313.8 L258,313.9 L259,314.0 L260,314.1 L261,314.2 L262,314.3 L263,314.4 L264,314.5 L265,314.6 L266,314.7 L267,314.8 L268,314.9 L269,314.9 L270,315.0 L271,315.1 L272,315.1 L273,315.1 L274,315.2 L275,315.2 L276,315.3 L277,315.3 L278,315.3 L279,315.4 L280,315.4 L281,315.4 L282,315.5 L283,315.5 L284,315.5 L285,315.6 L286,315.6 L287,315.6 L288,315.6 L289,315.6 L290,315.7 L291,315.7 L292,315.7 L293,315.7 L294,315.7 L295,315.7 L296,315.7 L297,315.7 L298,315.6 L299,315.6 L300,315.5 L301,315.5 L302,315.4 L303,315.3 L304,315.3 L305,315.2 L306,315.1 L307,315.0 L308,314.9 L309,314.7 L310,314.5 L311,314.3 L312,314.1 L313,313.8 L314,313.6 L315,313.3 L316,313.1 L317,312.9 L318,312.6 L319,312.3 L320,312.0 L321,311.7 L322,311.4 L323,311.1 L324,310.8 L325,310.5 L326,310.2 L327,309.8 L328,309.5 L329,309.2 L330,308.9 L331,308.5 L332,308.2 L333,307.9 L334,307.6 L335,307.4 L336,307.1 L337,306.8 L338,306.6 L339,306.3 L340,306.0 L341,305.8 L342,305.5 L343,305.3 L344,305.0 L345,304.7 L346,304.5 L347,304.3 L348,304.0 L349,303.8 L350,303.6 L351,303.4 L352,303.2 L353,303.0 L354,302.8 L355,302.6 L356,302.5 L357,302.4 L358,302.2 L359,302.1 L360,302.0 L361,301.8 L362,301.7 L363,301.6 L364,301.5 L365,301.4 L366,301.3 L367,301.2 L368,301.1 L369,301.0 L370,300.9 L371,300.8 L372,300.8 L373,300.7 L374,300.6 L375,300.6 L376,300.5 L377,300.4 L378,300.4 L379,300.3 L380,300.3 L381,300.2 L382,300.2 L383,300.1 L384,300.1 L385,300.1 L386,300.0 L387,300.0 L388,299.9 L389,299.9 L390,299.9 L391,299.8 L392,299.8 L393,299.8 L394,299.8 L395,299.7 L396,299.7 L397,299.7 L398,299.7 L399,299.6 L400,299.6 L401,299.6 L402,299.6 L403,299.6 L404,299.6 L405,299.6 L406,299.5 L407,299.5 L408,299.5 L409,299.5 L410,299.5 L411,299.5 L412,299.5 L413,299.5 L414,299.4 L415,299.4 L416,299.4 L417,299.4 L418,299.4 L419,299.3 L420,299.3 L421,299.3 L422,299.2 L423,299.1 L424,299.0 L425,298.9 L426,298.8 L427,298.7 L428,298.6 L429,298.5 L430,298.3 L431,298.2 L432,298.0 L433,297.9 L434,297.8 L435,297.6 L436,297.5 L437,297.4 L438,297.2 L439,297.1 L440,297.0 L441,296.8 L442,296.7 L443,296.5 L444,296.4 L445,296.2 L446,296.1 L447,295.9 L448,295.7 L449,295.6 L450,295.4 L451,295.3 L452,295.1 L453,295.0 L454,294.8 L455,294.7 L456,294.5 L457,294.3 L458,294.2 L459,294.0 L460,293.9 L461,293.7 L462,293.6 L463,293.4 L464,293.3 L465,293.1 L466,293.0 L467,292.8 L468,292.7 L469,292.5 L470,292.4 L471,292.2 L472,292.1 L473,291.9 L474,291.8 L475,291.6 L476,291.5 L477,291.3 L478,291.2 L479,291.0 L480,290.9 L481,290.7 L482,290.6 L483,290.4 L484,290.3 L485,290.1 L486,289.9 L487,289.8 L488,289.6 L489,289.5 L490,289.3 L491,289.2 L492,289.0 L493,288.9 L494,288.7 L495,288.6 L496,288.5 L497,288.3 L498,288.2 L499,288.1 L500,288.0 L501,287.9 L502,287.8 L503,287.7 L504,287.6 L505,287.5 L506,287.4 L507,287.3 L508,287.2 L509,287.1 L510,287.0 L511,286.9 L512,286.8 L513,286.7 L514,286.7 L515,286.6 L516,286.5 L517,286.4 L518,286.3 L519,286.3 L520,286.2 L521,286.1 L522,286.0 L523,285.9 L524,285.9 L525,285.8 L526,285.7 L527,285.7 L528,285.6 L529,285.6 L530,285.5 L531,285.5 L532,285.5 L533,285.5 L534,285.5 L535,285.5 L536,285.5 L537,285.5 L538,285.5 L539,285.5 L540,285.6 L541,285.6 L542,285.6 L543,285.6 L544,285.6 L545,285.6 L546,285.7 L547,285.7 L548,285.7 L549,285.7 L550,285.8 L551,285.8 L552,285.9 L553,286.0 L554,286.0 L555,286.1 L556,286.2 L557,286.3 L558,286.4 L559,286.6 L560,286.7 L561,286.8 L562,286.9 L563,287.0 L564,287.1 L565,287.2 L566,287.3 L567,287.4 L568,287.5 L569,287.7 L570,287.8 L571,287.9 L572,288.0 L573,288.2 L574,288.3 L575,288.4 L576,288.6 L577,288.7 L578,288.8 L579,289.0 L580,289.1 L581,289.2 L582,289.4 L583,289.5 L584,289.7 L585,289.8 L586,289.9 L587,290.1 L588,290.2 L589,290.4 L590,290.5 L591,290.7 L592,290.8 L593,291.0 L594,291.2 L595,291.3 L596,291.5 L597,291.6 L598,291.8 L599,291.9 L600,292.1 L601,292.3 L602,292.4 L603,292.6 L604,292.8 L605,292.9 L606,293.1 L607,293.3 L608,293.4 L609,293.6 L610,293.8 L611,294.0 L612,294.1 L613,294.3 L614,294.5 L615,294.6 L616,294.8 L617,295.0 L618,295.2 L619,295.3 L620,295.5 L621,295.7 L622,295.8 L623,296.0 L624,296.2 L625,296.3 L626,296.5 L627,296.6 L628,296.8 L629,296.9 L630,297.1 L631,297.3 L632,297.4 L633,297.6 L634,297.7 L635,297.9 L636,298.1 L637,298.2 L638,298.4 L639,298.6 L640,298.8 L641,298.9 L642,299.1 L643,299.3 L644,299.5 L645,299.7 L646,299.9 L647,300.1 L648,300.4 L649,300.6 L650,300.8 L651,301.1 L652,301.3 L653,301.6 L654,301.8 L655,302.0 L656,302.3 L657,302.5 L658,302.7 L659,302.9 L660,303.1 L661,303.3 L662,303.5 L663,303.6 L664,303.8 L665,303.9 L666,304.1 L667,304.2 L668,304.4 L669,304.5 L670,304.7 L671,304.8 L672,305.0 L673,305.1 L674,305.2 L675,305.4 L676,305.5 L677,305.7 L678,305.8 L679,306.0 L680,306.1 L681,306.3 L682,306.4 L683,306.6 L684,306.7 L685,306.9 L686,307.0 L687,307.2 L688,307.4 L689,307.5 L690,307.7 L691,307.8 L692,308.0 L693,308.1 L694,308.3 L695,308.4 L696,308.6 L697,308.7 L698,308.8 L699,309.0 L700,309.1 L701,309.2 L702,309.4 L703,309.5 L704,309.6 L705,309.8 L706,309.9 L707,310.0 L708,310.1 L709,310.3 L710,310.4 L711,310.5 L712,310.6 L713,310.7 L714,310.8 L715,310.9 L716,311.0 L717,311.0 L718,311.1 L719,311.1 L720,311.1 L721,311.1 L722,311.1 L723,311.1 L724,311.1 L725,311.1 L726,311.1 L727,311.1 L728,311.1 L729,311.1 L730,311.1 L731,311.1 L732,311.1 L733,311.1 L734,311.1 L735,311.1 L736,311.1 L737,311.1 L738,311.1 L739,311.1 L740,311.1 L741,311.1 L742,311.1 L743,311.1 L744,311.0 L745,311.0 L746,310.9 L747,310.9 L748,310.8 L749,310.8 L750,310.7 L751,310.7 L752,310.6 L753,310.5 L754,310.5 L755,310.4 L756,310.3 L757,310.3 L758,310.2 L759,310.2 L760,310.1 L761,310.0 L762,310.0 L763,309.9 L764,309.9 L765,309.8 L766,309.8 L767,309.7 L768,309.7 L769,309.6 L770,309.6 L771,309.5 L772,309.5 L773,309.4 L774,309.4 L775,309.3 L776,309.3 L777,309.2 L778,309.1 L779,309.1 L780,309.0 L781,309.0 L782,308.9 L783,308.9 L784,308.8 L785,308.8 L786,308.7" fill="none" stroke="#90EE90" stroke-width="1"/>
<path d="M123,346.5 L124,346.5 L125,346.5 L126,346.5 L127,346.5 L128,346.5 L129,346.5 L130,346.5 L131,346.5 L132,346.5 L133,346.5 L134,346.5 L135,346.5 L136,346.5 L137,346.5 L138,346.5 L139,346.4 L140,346.4 L141,346.4 L142,346.4 L143,346.4 L144,346.4 L145,346.4 L146,346.4 L147,346.4 L148,346.4 L149,346.4 L150,346.4 L151,346.4 L152,346.3 L153,346.3 L154,346.3 L155,346.3 L156,346.3 L157,346.3 L158,346.3 L159,346.3 L160,346.3 L161,346.2 L162,346.2 L163,346.2 L164,346.2 L165,346.2 L166,346.2 L167,346.2 L168,346.2 L169,346.1 L170,346.1 L171,346.1 L172,346.1 L173,346.1 L174,346.1 L175,346.0 L176,346.0 L177,346.0 L178,346.0 L179,346.0 L180,345.9 L181,345.9 L182,345.9 L183,345.8 L184,345.8 L185,345.8 L186,345.7 L187,345.7 L188,345.6 L189,345.6 L190,345.6 L191,345.5 L192,345.5 L193,345.4 L194,345.4 L195,345.3 L196,345.3 L197,345.2 L198,345.2 L199,345.1 L200,345.1 L201,345.0 L202,345.0 L203,344.9 L204,344.9 L205,344.8 L206,344.8 L207,344.7 L208,344.7 L209,344.6 L210,344.6 L211,344.5 L212,344.5 L213,344.5 L214,344.4 L215,344.4 L216,344.3 L217,344.2 L218,344.2 L219,344.1 L220,344.1 L221,344.0 L222,344.0 L223,343.9 L224,343.9 L225,343.8 L226,343.7 L227,343.7 L228,343.6 L229,343.6 L230,343.5 L231,343.4 L232,343.4 L233,343.3 L234,343.3 L235,343.2 L236,343.1 L237,343.1 L238,343.0 L239,342.9 L240,342.9 L241,342.8 L242,342.7 L243,342.7 L244,342.6 L245,342.6 L246,342.5 L247,342.4 L248,342.4 L249,342.3 L250,342.2 L251,342.2 L252,342.1 L253,342.0 L254,342.0 L255,341.9 L256,341.8 L257,341.8 L258,341.7 L259,341.6 L260,341.6 L261,341.5 L262,341.4 L263,341.4 L264,341.3 L265,341.2 L266,341.2 L267,341.1 L268,341.0 L269,341.0 L270,340.9 L271,340.8 L272,340.7 L273,340.7 L274,340.6 L275,340.5 L276,340.5 L277,340.4 L278,340.3 L279,340.2 L280,340.2 L281,340.1 L282,340.0 L283,340.0 L284,339.9 L285,339.8 L286,339.7 L287,339.7 L288,339.6 L289,339.5 L290,339.5 L291,339.4 L292,339.3 L293,339.2 L294,339.2 L295,339.1 L296,339.0 L297,339.0 L298,338.9 L299,338.8 L300,338.7 L301,338.7 L302,338.6 L303,338.5 L304,338.4 L305,338.4 L306,338.3 L307,338.2 L308,338.1 L309,338.1 L310,338.0 L311,337.9 L312,337.8 L313,337.8 L314,337.7 L315,337.6 L316,337.5 L317,337.5 L318,337.4 L319,337.3 L320,337.3 L321,337.2 L322,337.1 L323,337.0 L324,337.0 L325,336.9 L326,336.8 L327,336.7 L328,336.7 L329,336.6 L330,336.5 L331,336.5 L332,336.4 L333,336.3 L334,336.2 L335,336.2 L336,336.1 L337,336.0 L338,336.0 L339,335.9 L340,335.8 L341,335.8 L342,335.7 L343,335.6 L344,335.5 L345,335.5 L346,335.4 L347,335.3 L348,335.3 L349,335.2 L350,335.1 L351,335.1 L352,335.0 L353,334.9 L354,334.9 L355,334.8 L356,334.7 L357,334.7 L358,334.6 L359,334.5 L360,334.5 L361,334.4 L362,334.3 L363,334.3 L364,334.2 L365,334.2 L366,334.1 L367,334.0 L368,334.0 L369,333.9 L370,333.9 L371,333.8 L372,333.7 L373,333.7 L374,333.6 L375,333.6 L376,333.5 L377,333.4 L378,333.4 L379,333.3 L380,333.3 L381,333.2 L382,333.2 L383,333.1 L384,333.0 L385,333.0 L386,332.9 L387,332.9 L388,332.8 L389,332.8 L390,332.7 L391,332.7 L392,332.6 L393,332.5 L394,332.5 L395,332.4 L396,332.4 L397,332.3 L398,332.3 L399,332.2 L400,332.2 L401,332.1 L402,332.1 L403,332.0 L404,332.0 L405,331.9 L406,331.9 L407,331.8 L408,331.8 L409,331.8 L410,331.7 L411,331.7 L412,331.6 L413,331.6 L414,331.6 L415,331.5 L416,331.5 L417,331.5 L418,331.4 L419,331.4 L420,331.4 L421,331.3 L422,331.3 L423,331.3 L424,331.3 L425,331.2 L426,331.2 L427,331.2 L428,331.2 L429,331.1 L430,331.1 L431,331.1 L432,331.1 L433,331.0 L434,331.0 L435,331.0 L436,331.0 L437,331.0 L438,330.9 L439,330.9 L440,330.9 L441,330.9 L442,330.8 L443,330.8 L444,330.8 L445,330.8 L446,330.8 L447,330.7 L448,330.7 L449,330.7 L450,330.7 L451,330.6 L452,330.6 L453,330.6 L454,330.6 L455,330.5 L456,330.5 L457,330.5 L458,330.4 L459,330.4 L460,330.4 L461,330.4 L462,330.3 L463,330.3 L464,330.3 L465,330.3 L466,330.2 L467,330.2 L468,330.2 L469,330.1 L470,330.1 L471,330.1 L472,330.1 L473,330.0 L474,330.0 L475,330.0 L476,329.9 L477,329.9 L478,329.9 L479,329.9 L480,329.8 L481,329.8 L482,329.8 L483,329.7 L484,329.7 L485,329.7 L486,329.6 L487,329.6 L488,329.5 L489,329.5 L490,329.5 L491,329.4 L492,329.4 L493,329.3 L494,329.3 L495,329.2 L496,329.2 L497,329.1 L498,329.1 L499,329.0 L500,328.9 L501,328.9 L502,328.8 L503,328.6 L504,328.5 L505,328.4 L506,328.3 L507,328.1 L508,328.0 L509,327.8 L510,327.7 L511,327.5 L512,327.4 L513,327.3 L514,327.1 L515,327.0 L516,326.9 L517,326.8 L518,326.7 L519,326.6 L520,326.5 L521,326.4 L522,326.4 L523,326.3 L524,326.3 L525,326.2 L526,326.1 L527,326.1 L528,326.0 L529,326.0 L530,325.9 L531,325.9 L532,325.8 L533,325.8 L534,325.7 L535,325.7 L536,325.6 L537,325.6 L538,325.5 L539,325.5 L540,325.5 L541,325.4 L542,325.4 L543,325.4 L544,325.4 L545,325.3 L546,325.3 L547,325.3 L548,325.3 L549,325.3 L550,325.3 L551,325.3 L552,325.3 L553,325.3 L554,325.3 L555,325.3 L556,325.3 L557,325.3 L558,325.3 L559,325.3 L560,325.3 L561,325.3 L562,325.3 L563,325.3 L564,325.3 L565,325.4 L566,325.4 L567,325.4 L568,325.4 L569,325.4 L570,325.4 L571,325.4 L572,325.4 L573,325.4 L574,325.4 L575,325.4 L576,325.5 L577,325.5 L578,325.5 L579,325.5 L580,325.5 L581,325.5 L582,325.5 L583,325.6 L584,325.6 L585,325.6 L586,325.7 L587,325.7 L588,325.8 L589,325.9 L590,325.9 L591,326.0 L592,326.1 L593,326.1 L594,326.2 L595,326.3 L596,326.4 L597,326.4 L598,326.5 L599,326.6 L600,326.7 L601,326.8 L602,326.9 L603,327.0 L604,327.1 L605,327.3 L606,327.4 L607,327.5 L608,327.7 L609,327.8 L610,328.0 L611,328.2 L612,328.3 L613,328.5 L614,328.7 L615,328.8 L616,329.0 L617,329.2 L618,329.4 L619,329.5 L620,329.7 L621,329.9 L622,330.0 L623,330.2 L624,330.4 L625,330.6 L626,330.8 L627,331.0 L628,331.2 L629,331.4 L630,331.6 L631,331.8 L632,332.0 L633,332.2 L634,332.4 L635,332.6 L636,332.8 L637,333.0 L638,333.2 L639,333.4 L640,333.6 L641,333.8 L642,334.0 L643,334.2 L644,334.5 L645,334.7 L646,334.9 L647,335.1 L648,335.4 L649,335.6 L650,335.8 L651,336.1 L652,336.3 L653,336.5 L654,336.6 L655,336.8 L656,337.0 L657,337.1 L658,337.2 L659,337.3 L660,337.4 L661,337.5 L662,337.5 L663,337.6 L664,337.6 L665,337.7 L666,337.7 L667,337.8 L668,337.8 L669,337.9 L670,337.9 L671,337.9 L672,338.0 L673,338.0 L674,338.0 L675,338.0 L676,338.1 L677,338.1 L678,338.1 L679,338.1 L680,338.1 L681,338.1 L682,338.1 L683,338.0 L684,338.0 L685,337.9 L686,337.8 L687,337.8 L688,337.7 L689,337.6 L690,337.4 L691,337.3 L692,337.2 L693,337.1 L694,337.0 L695,336.9 L696,336.7 L697,336.6 L698,336.5 L699,336.4 L700,336.3 L701,336.2 L702,336.1 L703,336.0 L704,335.8 L705,335.7 L706,335.5 L707,335.4 L708,335.2 L709,335.1 L710,335.0 L711,334.8 L712,334.7 L713,334.6 L714,334.5 L715,334.4 L716,334.3 L717,334.2 L718,334.1 L719,334.1 L720,334.1 L721,334.1 L722,334.1 L723,334.1 L724,334.1 L725,334.1 L726,334.1 L727,334.1 L728,334.1 L729,334.1 L730,334.1 L731,334.1 L732,334.1 L733,334.1 L734,334.1 L735,334.1 L736,334.1 L737,334.1 L738,334.1 L739,334.1 L740,334.1 L741,334.1 L742,334.1 L743,334.2 L744,334.2 L745,334.3 L746,334.3 L747,334.4 L748,334.5 L749,334.5 L750,334.6 L751,334.7 L752,334.8 L753,334.9 L754,335.0 L755,335.1 L756,335.2 L757,335.3 L758,335.4 L759,335.4 L760,335.5 L761,335.6 L762,335.6 L763,335.7 L764,335.8 L765,335.8 L766,335.9 L767,336.0 L768,336.0 L769,336.1 L770,336.1 L771,336.2 L772,336.3 L773,336.3 L774,336.4 L775,336.5 L776,336.5 L777,336.6 L778,336.6 L779,336.7 L780,336.8 L781,336.8 L782,336.9 L783,336.9 L784,337.0 L785,337.0 L786,337.1 L786,423.5 L123,423.5 Z" fill="url(#gmlow)" stroke="none"/>
<path d="M123,346.5 L124,346.5 L125,346.5 L126,346.5 L127,346.5 L128,346.5 L129,346.5 L130,346.5 L131,346.5 L132,346.5 L133,346.5 L134,346.5 L135,346.5 L136,346.5 L137,346.5 L138,346.5 L139,346.4 L140,346.4 L141,346.4 L142,346.4 L143,346.4 L144,346.4 L145,346.4 L146,346.4 L147,346.4 L148,346.4 L149,346.4 L150,346.4 L151,346.4 L152,346.3 L153,346.3 L154,346.3 L155,346.3 L156,346.3 L157,346.3 L158,346.3 L159,346.3 L160,346.3 L161,346.2 L162,346.2 L163,346.2 L164,346.2 L165,346.2 L166,346.2 L167,346.2 L168,346.2 L169,346.1 L170,346.1 L171,346.1 L172,346.1 L173,346.1 L174,346.1 L175,346.0 L176,346.0 L177,346.0 L178,346.0 L179,346.0 L180,345.9 L181,345.9 L182,345.9 L183,345.8 L184,345.8 L185,345.8 L186,345.7 L187,345.7 L188,345.6 L189,345.6 L190,345.6 L191,345.5 L192,345.5 L193,345.4 L194,345.4 L195,345.3 L196,345.3 L197,345.2 L198,345.2 L199,345.1 L200,345.1 L201,345.0 L202,345.0 L203,344.9 L204,344.9 L205,344.8 L206,344.8 L207,344.7 L208,344.7 L209,344.6 L210,344.6 L211,344.5 L212,344.5 L213,344.5 L214,344.4 L215,344.4 L216,344.3 L217,344.2 L218,344.2 L219,344.1 L220,344.1 L221,344.0 L222,344.0 L223,343.9 L224,343.9 L225,343.8 L226,343.7 L227,343.7 L228,343.6 L229,343.6 L230,343.5 L231,343.4 L232,343.4 L233,343.3 L234,343.3 L235,343.2 L236,343.1 L237,343.1 L238,343.0 L239,342.9 L240,342.9 L241,342.8 L242,342.7 L243,342.7 L244,342.6 L245,342.6 L246,342.5 L247,342.4 L248,342.4 L249,342.3 L250,342.2 L251,342.2 L252,342.1 L253,342.0 L254,342.0 L255,341.9 L256,341.8 L257,341.8 L258,341.7 L259,341.6 L260,341.6 L261,341.5 L262,341.4 L263,341.4 L264,341.3 L265,341.2 L266,341.2 L267,341.1 L268,341.0 L269,341.0 L270,340.9 L271,340.8 L272,340.7 L273,340.7 L274,340.6 L275,340.5 L276,340.5 L277,340.4 L278,340.3 L279,340.2 L280,340.2 L281,340.1 L282,340.0 L283,340.0 L284,339.9 L285,339.8 L286,339.7 L287,339.7 L288,339.6 L289,339.5 L290,339.5 L291,339.4 L292,339.3 L293,339.2 L294,339.2 L295,339.1 L296,339.0 L297,339.0 L298,338.9 L299,338.8 L300,338.7 L301,338.7 L302,338.6 L303,338.5 L304,338.4 L305,338.4 L306,338.3 L307,338.2 L308,338.1 L309,338.1 L310,338.0 L311,337.9 L312,337.8 L313,337.8 L314,337.7 L315,337.6 L316,337.5 L317,337.5 L318,337.4 L319,337.3 L320,337.3 L321,337.2 L322,337.1 L323,337.0 L324,337.0 L325,336.9 L326,336.8 L327,336.7 L328,336.7 L329,336.6 L330,336.5 L331,336.5 L332,336.4 L333,336.3 L334,336.2 L335,336.2 L336,336.1 L337,336.0 L338,336.0 L339,335.9 L340,335.8 L341,335.8 L342,335.7 L343,335.6 L344,335.5 L345,335.5 L346,335.4 L347,335.3 L348,335.3 L349,335.2 L350,335.1 L351,335.1 L352,335.0 L353,334.9 L354,334.9 L355,334.8 L356,334.7 L357,334.7 L358,334.6 L359,334.5 L360,334.5 L361,334.4 L362,334.3 L363,334.3 L364,334.2 L365,334.2 L366,334.1 L367,334.0 L368,334.0 L369,333.9 L370,333.9 L371,333.8 L372,333.7 L373,333.7 L374,333.6 L375,333.6 L376,333.5 L377,333.4 L378,333.4 L379,333.3 L380,333.3 L381,333.2 L382,333.2 L383,333.1 L384,333.0 L385,333.0 L386,332.9 L387,332.9 L388,332.8 L389,332.8 L390,332.7 L391,332.7 L392,332.6 L393,332.5 L394,332.5 L395,332.4 L396,332.4 L397,332.3 L398,332.3 L399,332.2 L400,332.2 L401,332.1 L402,332.1 L403,332.0 L404,332.0 L405,331.9 L406,331.9 L407,331.8 L408,331.8 L409,331.8 L410,331.7 L411,331.7 L412,331.6 L413,331.6 L414,331.6 L415,331.5 L416,331.5 L417,331.5 L418,331.4 L419,331.4 L420,331.4 L421,331.3 L422,331.3 L423,331.3 L424,331.3 L425,331.2 L426,331.2 L427,331.2 L428,331.2 L429,331.1 L430,331.1 L431,331.1 L432,331.1 L433,331.0 L434,331.0 L435,331.0 L436,331.0 L437,331.0 L438,330.9 L439,330.9 L440,330.9 L441,330.9 L442,330.8 L443,330.8 L444,330.8 L445,330.8 L446,330.8 L447,330.7 L448,330.7 L449,330.7 L450,330.7 L451,330.6 L452,330.6 L453,330.6 L454,330.6 L455,330.5 L456,330.5 L457,330.5 L458,330.4 L459,330.4 L460,330.4 L461,330.4 L462,330.3 L463,330.3 L464,330.3 L465,330.3 L466,330.2 L467,330.2 L468,330.2 L469,330.1 L470,330.1 L471,330.1 L472,330.1 L473,330.0 L474,330.0 L475,330.0 L476,329.9 L477,329.9 L478,329.9 L479,329.9 L480,329.8 L481,329.8 L482,329.8 L483,329.7 L484,329.7 L485,329.7 L486,329.6 L487,329.6 L488,329.5 L489,329.5 L490,329.5 L491,329.4 L492,329.4 L493,329.3 L494,329.3 L495,329.2 L496,329.2 L497,329.1 L498,329.1 L499,329.0 L500,328.9 L501,328.9 L502,328.8 L503,328.6 L504,328.5 L505,328.4 L506,328.3 L507,328.1 L508,328.0 L509,327.8 L510,327.7 L511,327.5 L512,327.4 L513,327.3 L514,327.1 L515,327.0 L516,326.9 L517,326.8 L518,326.7 L519,326.6 L520,326.5 L521,326.4 L522,326.4 L523,326.3 L524,326.3 L525,326.2 L526,326.1 L527,326.1 L528,326.0 L529,326.0 L530,325.9 L531,325.9 L532,325.8 L533,325.8 L534,325.7 L535,325.7 L536,325.6 L537,325.6 L538,325.5 L539,325.5 L540,325.5 L541,325.4 L542,325.4 L543,325.4 L544,325.4 L545,325.3 L546,325.3 L547,325.3 L548,325.3 L549,325.3 L550,325.3 L551,325.3 L552,325.3 L553,325.3 L554,325.3 L555,325.3 L556,325.3 L557,325.3 L558,325.3 L559,325.3 L560,325.3 L561,325.3 L562,325.3 L563,325.3 L564,325.3 L565,325.4 L566,325.4 L567,325.4 L568,325.4 L569,325.4 L570,325.4 L571,325.4 L572,325.4 L573,325.4 L574,325.4 L575,325.4 L576,325.5 L577,325.5 L578,325.5 L579,325.5 L580,325.5 L581,325.5 L582,325.5 L583,325.6 L584,325.6 L585,325.6 L586,325.7 L587,325.7 L588,325.8 L589,325.9 L590,325.9 L591,326.0 L592,326.1 L593,326.1 L594,326.2 L595,326.3 L596,326.4 L597,326.4 L598,326.5 L599,326.6 L600,326.7 L601,326.8 L602,326.9 L603,327.0 L604,327.1 L605,327.3 L606,327.4 L607,327.5 L608,327.7 L609,327.8 L610,328.0 L611,328.2 L612,328.3 L613,328.5 L614,328.7 L615,328.8 L616,329.0 L617,329.2 L618,329.4 L619,329.5 L620,329.7 L621,329.9 L622,330.0 L623,330.2 L624,330.4 L625,330.6 L626,330.8 L627,331.0 L628,331.2 L629,331.4 L630,331.6 L631,331.8 L632,332.0 L633,332.2 L634,332.4 L635,332.6 L636,332.8 L637,333.0 L638,333.2 L639,333.4 L640,333.6 L641,333.8 L642,334.0 L643,334.2 L644,334.5 L645,334.7 L646,334.9 L647,335.1 L648,335.4 L649,335.6 L650,335.8 L651,336.1 L652,336.3 L653,336.5 L654,336.6 L655,336.8 L656,337.0 L657,337.1 L658,337.2 L659,337.3 L660,337.4 L661,337.5 L662,337.5 L663,337.6 L664,337.6 L665,337.7 L666,337.7 L667,337.8 L668,337.8 L669,337.9 L670,337.9 L671,337.9 L672,338.0 L673,338.0 L674,338.0 L675,338.0 L676,338.1 L677,338.1 L678,338.1 L679,338.1 L680,338.1 L681,338.1 L682,338.1 L683,338.0 L684,338.0 L685,337.9 L686,337.8 L687,337.8 L688,337.7 L689,337.6 L690,337.4 L691,337.3 L692,337.2 L693,337.1 L694,337.0 L695,336.9 L696,336.7 L697,336.6 L698,336.5 L699,336.4 L700,336.3 L701,336.2 L702,336.1 L703,336.0 L704,335.8 L705,335.7 L706,335.5 L707,335.4 L708,335.2 L709,335.1 L710,335.0 L711,334.8 L712,334.7 L713,334.6 L714,334.5 L715,334.4 L716,334.3 L717,334.2 L718,334.1 L719,334.1 L720,334.1 L721,334.1 L722,334.1 L723,334.1 L724,334.1 L725,334.1 L726,334.1 L727,334.1 L728,334.1 L729,334.1 L730,334.1 L731,334.1 L732,334.1 L733,334.1 L734,334.1 L735,334.1 L736,334.1 L737,334.1 L738,334.1 L739,334.1 L740,334.1 L741,334.1 L742,334.1 L743,334.2 L744,334.2 L745,334.3 L746,334.3 L747,334.4 L748,334.5 L749,334.5 L750,334.6 L751,334.7 L752,334.8 L753,334.9 L754,335.0 L755,335.1 L756,335.2 L757,335.3 L758,335.4 L759,335.4 L760,335.5 L761,335.6 L762,335.6 L763,335.7 L764,335.8 L765,335.8 L766,335.9 L767,336.0 L768,336.0 L769,336.1 L770,336.1 L771,336.2 L772,336.3 L773,336.3 L774,336.4 L775,336.5 L776,336.5 L777,336.6 L778,336.6 L779,336.7 L780,336.8 L781,336.8 L782,336.9 L783,336.9 L784,337.0 L785,337.0 L786,337.1" fill="none" stroke="#FFE4C4" stroke-width="1"/>
<path d="M123,361.5 L124,361.4 L125,361.2 L126,361.1 L127,360.9 L128,360.8 L129,360.7 L130,360.6 L131,360.5 L132,360.5 L133,360.5 L134,360.5 L135,360.5 L136,360.5 L137,360.5 L138,360.5 L139,360.5 L140,360.5 L141,360.5 L142,360.5 L143,360.5 L144,360.5 L145,360.5 L146,360.5 L147,360.5 L148,360.5 L149,360.5 L150,360.5 L151,360.5 L152,360.5 L153,360.5 L154,360.5 L155,360.5 L156,360.5 L157,360.5 L158,360.5 L159,360.5 L160,360.5 L161,360.5 L162,360.5 L163,360.6 L164,360.6 L165,360.6 L166,360.6 L167,360.6 L168,360.6 L169,360.6 L170,360.6 L171,360.6 L172,360.6 L173,360.6 L174,360.6 L175,360.6 L176,360.6 L177,360.6 L178,360.6 L179,360.6 L180,360.6 L181,360.6 L182,360.6 L183,360.6 L184,360.6 L185,360.7 L186,360.7 L187,360.7 L188,360.7 L189,360.7 L190,360.7 L191,360.7 L192,360.7 L193,360.7 L194,360.7 L195,360.8 L196,360.8 L197,360.8 L198,360.9 L199,361.0 L200,361.0 L201,361.1 L202,361.2 L203,361.2 L204,361.3 L205,361.4 L206,361.5 L207,361.5 L208,361.6 L209,361.7 L210,361.8 L211,361.9 L212,361.9 L213,362.0 L214,362.1 L215,362.2 L216,362.2 L217,362.3 L218,362.3 L219,362.4 L220,362.4 L221,362.5 L222,362.5 L223,362.5 L224,362.5 L225,362.5 L226,362.5 L227,362.5 L228,362.5 L229,362.5 L230,362.5 L231,362.5 L232,362.4 L233,362.4 L234,362.4 L235,362.4 L236,362.4 L237,362.4 L238,362.4 L239,362.3 L240,362.3 L241,362.3 L242,362.3 L243,362.2 L244,362.2 L245,362.2 L246,362.2 L247,362.1 L248,362.1 L249,362.1 L250,362.0 L251,361.9 L252,361.9 L253,361.8 L254,361.7 L255,361.6 L256,361.4 L257,361.3 L258,361.2 L259,361.0 L260,360.9 L261,360.7 L262,360.6 L263,360.4 L264,360.3 L265,360.1 L266,360.0 L267,359.8 L268,359.6 L269,359.5 L270,359.4 L271,359.2 L272,359.1 L273,359.0 L274,358.9 L275,358.7 L276,358.6 L277,358.5 L278,358.3 L279,358.2 L280,358.1 L281,358.0 L282,357.8 L283,357.7 L284,357.6 L285,357.5 L286,357.3 L287,357.2 L288,357.1 L289,357.0 L290,356.9 L291,356.7 L292,356.6 L293,356.5 L294,356.4 L295,356.3 L296,356.2 L297,356.1 L298,356.0 L299,355.9 L300,355.8 L301,355.7 L302,355.6 L303,355.5 L304,355.4 L305,355.3 L306,355.2 L307,355.2 L308,355.1 L309,355.0 L310,354.9 L311,354.8 L312,354.7 L313,354.6 L314,354.6 L315,354.5 L316,354.4 L317,354.3 L318,354.2 L319,354.1 L320,354.1 L321,354.0 L322,353.9 L323,353.8 L324,353.7 L325,353.6 L326,353.6 L327,353.5 L328,353.4 L329,353.3 L330,353.2 L331,353.1 L332,353.0 L333,353.0 L334,352.9 L335,352.8 L336,352.7 L337,352.6 L338,352.5 L339,352.4 L340,352.3 L341,352.3 L342,352.2 L343,352.1 L344,352.0 L345,351.9 L346,351.8 L347,351.7 L348,351.6 L349,351.6 L350,351.5 L351,351.4 L352,351.3 L353,351.2 L354,351.1 L355,351.0 L356,350.9 L357,350.8 L358,350.8 L359,350.7 L360,350.6 L361,350.5 L362,350.4 L363,350.3 L364,350.2 L365,350.1 L366,350.0 L367,349.9 L368,349.8 L369,349.8 L370,349.7 L371,349.6 L372,349.5 L373,349.4 L374,349.3 L375,349.2 L376,349.1 L377,349.0 L378,348.9 L379,348.8 L380,348.7 L381,348.6 L382,348.5 L383,348.4 L384,348.3 L385,348.2 L386,348.1 L387,348.0 L388,347.9 L389,347.8 L390,347.7 L391,347.5 L392,347.4 L393,347.3 L394,347.2 L395,347.1 L396,347.0 L397,346.9 L398,346.8 L399,346.7 L400,346.6 L401,346.5 L402,346.4 L403,346.4 L404,346.3 L405,346.2 L406,346.1 L407,346.0 L408,345.9 L409,345.8 L410,345.8 L411,345.7 L412,345.6 L413,345.5 L414,345.4 L415,345.3 L416,345.2 L417,345.1 L418,345.1 L419,345.0 L420,344.9 L421,344.8 L422,344.7 L423,344.7 L424,344.6 L425,344.5 L426,344.5 L427,344.4 L428,344.4 L429,344.4 L430,344.3 L431,344.3 L432,344.3 L433,344.3 L434,344.3 L435,344.3 L436,344.3 L437,344.2 L438,344.2 L439,344.2 L440,344.2 L441,344.2 L442,344.2 L443,344.2 L444,344.2 L445,344.2 L446,344.2 L447,344.2 L448,344.2 L449,344.2 L450,344.2 L451,344.1 L452,344.1 L453,344.1 L454,344.1 L455,344.1 L456,344.1 L457,344.1 L458,344.1 L459,344.1 L460,344.1 L461,344.1 L462,344.1 L463,344.1 L464,344.1 L465,344.1 L466,344.1 L467,344.1 L468,344.1 L469,344.1 L470,344.1 L471,344.1 L472,344.1 L473,344.2 L474,344.2 L475,344.2 L476,344.2 L477,344.3 L478,344.3 L479,344.3 L480,344.4 L481,344.4 L482,344.4 L483,344.5 L484,344.5 L485,344.6 L486,344.6 L487,344.7 L488,344.7 L489,344.7 L490,344.8 L491,344.8 L492,344.9 L493,344.9 L494,344.9 L495,345.0 L496,345.0 L497,345.0 L498,345.1 L499,345.1 L500,345.1 L501,345.1 L502,345.2 L503,345.2 L504,345.2 L505,345.2 L506,345.2 L507,345.3 L508,345.3 L509,345.3 L510,345.3 L511,345.3 L512,345.3 L513,345.3 L514,345.4 L515,345.4 L516,345.4 L517,345.4 L518,345.4 L519,345.5 L520,345.5 L521,345.5 L522,345.6 L523,345.6 L524,345.6 L525,345.7 L526,345.7 L527,345.8 L528,345.8 L529,345.8 L530,345.9 L531,345.9 L532,346.0 L533,346.0 L534,346.1 L535,346.2 L536,346.2 L537,346.3 L538,346.3 L539,346.4 L540,346.5 L541,346.5 L542,346.6 L543,346.6 L544,346.7 L545,346.8 L546,346.8 L547,346.9 L548,347.0 L549,347.0 L550,347.1 L551,347.2 L552,347.2 L553,347.3 L554,347.4 L555,347.5 L556,347.6 L557,347.6 L558,347.7 L559,347.8 L560,347.9 L561,348.0 L562,348.1 L563,348.2 L564,348.3 L565,348.4 L566,348.5 L567,348.5 L568,348.6 L569,348.7 L570,348.8 L571,348.9 L572,349.0 L573,349.1 L574,349.2 L575,349.3 L576,349.4 L577,349.5 L578,349.5 L579,349.6 L580,349.7 L581,349.8 L582,349.9 L583,349.9 L584,350.0 L585,350.1 L586,350.2 L587,350.2 L588,350.3 L589,350.4 L590,350.4 L591,350.5 L592,350.6 L593,350.7 L594,350.7 L595,350.8 L596,350.9 L597,350.9 L598,351.0 L599,351.0 L600,351.1 L601,351.2 L602,351.2 L603,351.3 L604,351.3 L605,351.4 L606,351.5 L607,351.5 L608,351.6 L609,351.6 L610,351.7 L611,351.7 L612,351.8 L613,351.8 L614,351.9 L615,351.9 L616,352.0 L617,352.0 L618,352.0 L619,352.1 L620,352.1 L621,352.1 L622,352.1 L623,352.2 L624,352.2 L625,352.2 L626,352.2 L627,352.2 L628,352.2 L629,352.2 L630,352.3 L631,352.3 L632,352.3 L633,352.3 L634,352.3 L635,352.3 L636,352.3 L637,352.3 L638,352.4 L639,352.4 L640,352.4 L641,352.4 L642,352.4 L643,352.5 L644,352.5 L645,352.5 L646,352.5 L647,352.5 L648,352.6 L649,352.6 L650,352.6 L651,352.6 L652,352.7 L653,352.7 L654,352.7 L655,352.8 L656,352.8 L657,352.8 L658,352.8 L659,352.9 L660,352.9 L661,352.9 L662,353.0 L663,353.0 L664,353.0 L665,353.1 L666,353.1 L667,353.2 L668,353.2 L669,353.2 L670,353.3 L671,353.3 L672,353.4 L673,353.4 L674,353.5 L675,353.5 L676,353.6 L677,353.6 L678,353.6 L679,353.7 L680,353.7 L681,353.8 L682,353.8 L683,353.9 L684,353.9 L685,353.9 L686,354.0 L687,354.0 L688,354.0 L689,354.1 L690,354.1 L691,354.1 L692,354.2 L693,354.2 L694,354.2 L695,354.2 L696,354.2 L697,354.3 L698,354.3 L699,354.3 L700,354.3 L701,354.3 L702,354.4 L703,354.4 L704,354.4 L705,354.4 L706,354.4 L707,354.4 L708,354.5 L709,354.5 L710,354.5 L711,354.5 L712,354.5 L713,354.5 L714,354.6 L715,354.6 L716,354.6 L717,354.6 L718,354.7 L719,354.7 L720,354.7 L721,354.7 L722,354.8 L723,354.8 L724,354.8 L725,354.8 L726,354.9 L727,354.9 L728,354.9 L729,355.0 L730,355.0 L731,355.0 L732,355.1 L733,355.1 L734,355.1 L735,355.2 L736,355.2 L737,355.2 L738,355.3 L739,355.3 L740,355.3 L741,355.4 L742,355.4 L743,355.4 L744,355.5 L745,355.5 L746,355.6 L747,355.6 L748,355.6 L749,355.7 L750,355.7 L751,355.7 L752,355.8 L753,355.8 L754,355.8 L755,355.9 L756,355.9 L757,356.0 L758,356.0 L759,356.0 L760,356.1 L761,356.1 L762,356.1 L763,356.2 L764,356.2 L765,356.3 L766,356.3 L767,356.3 L768,356.4 L769,356.4 L770,356.5 L771,356.5 L772,356.5 L773,356.6 L774,356.6 L775,356.7 L776,356.7 L777,356.7 L778,356.8 L779,356.8 L780,356.9 L781,356.9 L782,356.9 L783,357.0 L784,357.0 L785,357.1 L786,357.1 L786,423.5 L123,423.5 Z" fill="url(#glow)" stroke="none"/>
<path d="M123,361.5 L124,361.4 L125,361.2 L126,361.1 L127,360.9 L128,360.8 L129,360.7 L130,360.6 L131,360.5 L132,360.5 L133,360.5 L134,360.5 L135,360.5 L136,360.5 L137,360.5 L138,360.5 L139,360.5 L140,360.5 L141,360.5 L142,360.5 L143,360.5 L144,360.5 L145,360.5 L146,360.5 L147,360.5 L148,360.5 L149,360.5 L150,360.5 L151,360.5 L152,360.5 L153,360.5 L154,360.5 L155,360.5 L156,360.5 L157,360.5 L158,360.5 L159,360.5 L160,360.5 L161,360.5 L162,360.5 L163,360.6 L164,360.6 L165,360.6 L166,360.6 L167,360.6 L168,360.6 L169,360.6 L170,360.6 L171,360.6 L172,360.6 L173,360.6 L174,360.6 L175,360.6 L176,360.6 L177,360.6 L178,360.6 L179,360.6 L180,360.6 L181,360.6 L182,360.6 L183,360.6 L184,360.6 L185,360.7 L186,360.7 L187,360.7 L188,360.7 L189,360.7 L190,360.7 L191,360.7 L192,360.7 L193,360.7 L194,360.7 L195,360.8 L196,360.8 L197,360.8 L198,360.9 L199,361.0 L200,361.0 L201,361.1 L202,361.2 L203,361.2 L204,361.3 L205,361.4 L206,361.5 L207,361.5 L208,361.6 L209,361.7 L210,361.8 L211,361.9 L212,361.9 L213,362.0 L214,362.1 L215,362.2 L216,362.2 L217,362.3 L218,362.3 L219,362.4 L220,362.4 L221,362.5 L222,362.5 L223,362.5 L224,362.5 L225,362.5 L226,362.5 L227,362.5 L228,362.5 L229,362.5 L230,362.5 L231,362.5 L232,362.4 L233,362.4 L234,362.4 L235,362.4 L236,362.4 L237,362.4 L238,362.4 L239,362.3 L240,362.3 L241,362.3 L242,362.3 L243,362.2 L244,362.2 L245,362.2 L246,362.2 L247,362.1 L248,362.1 L249,362.1 L250,362.0 L251,361.9 L252,361.9 L253,361.8 L254,361.7 L255,361.6 L256,361.4 L257,361.3 L258,361.2 L259,361.0 L260,360.9 L261,360.7 L262,360.6 L263,360.4 L264,360.3 L265,360.1 L266,360.0 L267,359.8 L268,359.6 L269,359.5 L270,359.4 L271,359.2 L272,359.1 L273,359.0 L274,358.9 L275,358.7 L276,358.6 L277,358.5 L278,358.3 L279,358.2 L280,358.1 L281,358.0 L282,357.8 L283,357.7 L284,357.6 L285,357.5 L286,357.3 L287,357.2 L288,357.1 L289,357.0 L290,356.9 L291,356.7 L292,356.6 L293,356.5 L294,356.4 L295,356.3 L296,356.2 L297,356.1 L298,356.0 L299,355.9 L300,355.8 L301,355.7 L302,355.6 L303,355.5 L304,355.4 L305,355.3 L306,355.2 L307,355.2 L308,355.1 L309,355.0 L310,354.9 L311,354.8 L312,354.7 L313,354.6 L314,354.6 L315,354.5 L316,354.4 L317,354.3 L318,354.2 L319,354.1 L320,354.1 L321,354.0 L322,353.9 L323,353.8 L324,353.7 L325,353.6 L326,353.6 L327,353.5 L328,353.4 L329,353.3 L330,353.2 L331,353.1 L332,353.0 L333,353.0 L334,352.9 L335,352.8 L336,352.7 L337,352.6 L338,352.5 L339,352.4 L340,352.3 L341,352.3 L342,352.2 L343,352.1 L344,352.0 L345,351.9 L346,351.8 L347,351.7 L348,351.6 L349,351.6 L350,351.5 L351,351.4 L352,351.3 L353,351.2 L354,351.1 L355,351.0 L356,350.9 L357,350.8 L358,350.8 L359,350.7 L360,350.6 L361,350.5 L362,350.4 L363,350.3 L364,350.2 L365,350.1 L366,350.0 L367,349.9 L368,349.8 L369,349.8 L370,349.7 L371,349.6 L372,349.5 L373,349.4 L374,349.3 L375,349.2 L376,349.1 L377,349.0 L378,348.9 L379,348.8 L380,348.7 L381,348.6 L382,348.5 L383,348.4 L384,348.3 L385,348.2 L386,348.1 L387,348.0 L388,347.9 L389,347.8 L390,347.7 L391,347.5 L392,347.4 L393,347.3 L394,347.2 L395,347.1 L396,347.0 L397,346.9 L398,346.8 L399,346.7 L400,346.6 L401,346.5 L402,346.4 L403,346.4 L404,346.3 L405,346.2 L406,346.1 L407,346.0 L408,345.9 L409,345.8 L410,345.8 L411,345.7 L412,345.6 L413,345.5 L414,345.4 L415,345.3 L416,345.2 L417,345.1 L418,345.1 L419,345.0 L420,344.9 L421,344.8 L422,344.7 L423,344.7 L424,344.6 L425,344.5 L426,344.5 L427,344.4 L428,344.4 L429,344.4 L430,344.3 L431,344.3 L432,344.3 L433,344.3 L434,344.3 L435,344.3 L436,344.3 L437,344.2 L438,344.2 L439,344.2 L440,344.2 L441,344.2 L442,344.2 L443,344.2 L444,344.2 L445,344.2 L446,344.2 L447,344.2 L448,344.2 L449,344.2 L450,344.2 L451,344.1 L452,344.1 L453,344.1 L454,344.1 L455,344.1 L456,344.1 L457,344.1 L458,344.1 L459,344.1 L460,344.1 L461,344.1 L462,344.1 L463,344.1 L464,344.1 L465,344.1 L466,344.1 L467,344.1 L468,344.1 L469,344.1 L470,344.1 L471,344.1 L472,344.1 L473,344.2 L474,344.2 L475,344.2 L476,344.2 L477,344.3 L478,344.3 L479,344.3 L480,344.4 L481,344.4 L482,344.4 L483,344.5 L484,344.5 L485,344.6 L486,344.6 L487,344.7 L488,344.7 L489,344.7 L490,344.8 L491,344.8 L492,344.9 L493,344.9 L494,344.9 L495,345.0 L496,345.0 L497,345.0 L498,345.1 L499,345.1 L500,345.1 L501,345.1 L502,345.2 L503,345.2 L504,345.2 L505,345.2 L506,345.2 L507,345.3 L508,345.3 L509,345.3 L510,345.3 L511,345.3 L512,345.3 L513,345.3 L514,345.4 L515,345.4 L516,345.4 L517,345.4 L518,345.4 L519,345.5 L520,345.5 L521,345.5 L522,345.6 L523,345.6 L524,345.6 L525,345.7 L526,345.7 L527,345.8 L528,345.8 L529,345.8 L530,345.9 L531,345.9 L532,346.0 L533,346.0 L534,346.1 L535,346.2 L536,346.2 L537,346.3 L538,346.3 L539,346.4 L540,346.5 L541,346.5 L542,346.6 L543,346.6 L544,346.7 L545,346.8 L546,346.8 L547,346.9 L548,347.0 L549,347.0 L550,347.1 L551,347.2 L552,347.2 L553,347.3 L554,347.4 L555,347.5 L556,347.6 L557,347.6 L558,347.7 L559,347.8 L560,347.9 L561,348.0 L562,348.1 L563,348.2 L564,348.3 L565,348.4 L566,348.5 L567,348.5 L568,348.6 L569,348.7 L570,348.8 L571,348.9 L572,349.0 L573,349.1 L574,349.2 L575,349.3 L576,349.4 L577,349.5 L578,349.5 L579,349.6 L580,349.7 L581,349.8 L582,349.9 L583,349.9 L584,350.0 L585,350.1 L586,350.2 L587,350.2 L588,350.3 L589,350.4 L590,350.4 L591,350.5 L592,350.6 L593,350.7 L594,350.7 L595,350.8 L596,350.9 L597,350.9 L598,351.0 L599,351.0 L600,351.1 L601,351.2 L602,351.2 L603,351.3 L604,351.3 L605,351.4 L606,351.5 L607,351.5 L608,351.6 L609,351.6 L610,351.7 L611,351.7 L612,351.8 L613,351.8 L614,351.9 L615,351.9 L616,352.0 L617,352.0 L618,352.0 L619,352.1 L620,352.1 L621,352.1 L622,352.1 L623,352.2 L624,352.2 L625,352.2 L626,352.2 L627,352.2 L628,352.2 L629,352.2 L630,352.3 L631,352.3 L632,352.3 L633,352.3 L634,352.3 L635,352.3 L636,352.3 L637,352.3 L638,352.4 L639,352.4 L640,352.4 L641,352.4 L642,352.4 L643,352.5 L644,352.5 L645,352.5 L646,352.5 L647,352.5 L648,352.6 L649,352.6 L650,352.6 L651,352.6 L652,352.7 L653,352.7 L654,352.7 L655,352.8 L656,352.8 L657,352.8 L658,352.8 L659,352.9 L660,352.9 L661,352.9 L662,353.0 L663,353.0 L664,353.0 L665,353.1 L666,353.1 L667,353.2 L668,353.2 L669,353.2 L670,353.3 L671,353.3 L672,353.4 L673,353.4 L674,353.5 L675,353.5 L676,353.6 L677,353.6 L678,353.6 L679,353.7 L680,353.7 L681,353.8 L682,353.8 L683,353.9 L684,353.9 L685,353.9 L686,354.0 L687,354.0 L688,354.0 L689,354.1 L690,354.1 L691,354.1 L692,354.2 L693,354.2 L694,354.2 L695,354.2 L696,354.2 L697,354.3 L698,354.3 L699,354.3 L700,354.3 L701,354.3 L702,354.4 L703,354.4 L704,354.4 L705,354.4 L706,354.4 L707,354.4 L708,354.5 L709,354.5 L710,354.5 L711,354.5 L712,354.5 L713,354.5 L714,354.6 L715,354.6 L716,354.6 L717,354.6 L718,354.7 L719,354.7 L720,354.7 L721,354.7 L722,354.8 L723,354.8 L724,354.8 L725,354.8 L726,354.9 L727,354.9 L728,354.9 L729,355.0 L730,355.0 L731,355.0 L732,355.1 L733,355.1 L734,355.1 L735,355.2 L736,355.2 L737,355.2 L738,355.3 L739,355.3 L740,355.3 L741,355.4 L742,355.4 L743,355.4 L744,355.5 L745,355.5 L746,355.6 L747,355.6 L748,355.6 L749,355.7 L750,355.7 L751,355.7 L752,355.8 L753,355.8 L754,355.8 L755,355.9 L756,355.9 L757,356.0 L758,356.0 L759,356.0 L760,356.1 L761,356.1 L762,356.1 L763,356.2 L764,356.2 L765,356.3 L766,356.3 L767,356.3 L768,356.4 L769,356.4 L770,356.5 L771,356.5 L772,356.5 L773,356.6 L774,356.6 L775,356.7 L776,356.7 L777,356.7 L778,356.8 L779,356.8 L780,356.9 L781,356.9 L782,356.9 L783,357.0 L784,357.0 L785,357.1 L786,357.1" fill="none" stroke="#DEB887" stroke-width="1"/>
<path d="M123,377.5 L124,377.5 L125,377.5 L126,377.5 L127,377.5 L128,377.5 L129,377.5 L130,377.5 L131,377.5 L132,377.5 L133,377.5 L134,377.5 L135,377.5 L136,377.5 L137,377.5 L138,377.5 L139,377.5 L140,377.5 L141,377.5 L142,377.5 L143,377.5 L144,377.5 L145,377.5 L146,377.5 L147,377.5 L148,377.5 L149,377.5 L150,377.5 L151,377.5 L152,377.5 L153,377.5 L154,377.5 L155,377.5 L156,377.5 L157,377.5 L158,377.5 L159,377.5 L160,377.5 L161,377.5 L162,377.5 L163,377.5 L164,377.5 L165,377.5 L166,377.5 L167,377.5 L168,377.5 L169,377.5 L170,377.5 L171,377.5 L172,377.5 L173,377.5 L174,377.5 L175,377.5 L176,377.5 L177,377.5 L178,377.5 L179,377.5 L180,377.4 L181,377.4 L182,377.4 L183,377.3 L184,377.3 L185,377.2 L186,377.2 L187,377.1 L188,377.0 L189,377.0 L190,376.9 L191,376.8 L192,376.8 L193,376.7 L194,376.6 L195,376.5 L196,376.5 L197,376.4 L198,376.3 L199,376.3 L200,376.2 L201,376.1 L202,376.1 L203,376.0 L204,376.0 L205,375.9 L206,375.9 L207,375.8 L208,375.8 L209,375.7 L210,375.7 L211,375.7 L212,375.7 L213,375.7 L214,375.7 L215,375.7 L216,375.7 L217,375.7 L218,375.7 L219,375.7 L220,375.7 L221,375.7 L222,375.7 L223,375.7 L224,375.7 L225,375.6 L226,375.6 L227,375.6 L228,375.6 L229,375.6 L230,375.6 L231,375.6 L232,375.6 L233,375.6 L234,375.6 L235,375.6 L236,375.6 L237,375.6 L238,375.6 L239,375.6 L240,375.6 L241,375.6 L242,375.6 L243,375.6 L244,375.6 L245,375.6 L246,375.6 L247,375.6 L248,375.6 L249,375.6 L250,375.6 L251,375.6 L252,375.6 L253,375.6 L254,375.6 L255,375.6 L256,375.6 L257,375.6 L258,375.6 L259,375.6 L260,375.6 L261,375.6 L262,375.6 L263,375.6 L264,375.6 L265,375.6 L266,375.6 L267,375.6 L268,375.6 L269,375.6 L270,375.6 L271,375.6 L272,375.6 L273,375.6 L274,375.6 L275,375.6 L276,375.6 L277,375.6 L278,375.6 L279,375.6 L280,375.6 L281,375.6 L282,375.6 L283,375.6 L284,375.6 L285,375.5 L286,375.5 L287,375.5 L288,375.5 L289,375.5 L290,375.5 L291,375.5 L292,375.5 L293,375.5 L294,375.5 L295,375.5 L296,375.5 L297,375.4 L298,375.4 L299,375.3 L300,375.2 L301,375.1 L302,375.0 L303,374.9 L304,374.8 L305,374.6 L306,374.5 L307,374.3 L308,374.2 L309,374.0 L310,373.9 L311,373.7 L312,373.6 L313,373.5 L314,373.3 L315,373.2 L316,373.1 L317,373.0 L318,372.9 L319,372.8 L320,372.7 L321,372.6 L322,372.5 L323,372.4 L324,372.3 L325,372.2 L326,372.1 L327,372.0 L328,371.9 L329,371.8 L330,371.7 L331,371.6 L332,371.5 L333,371.4 L334,371.3 L335,371.2 L336,371.1 L337,371.0 L338,370.9 L339,370.8 L340,370.6 L341,370.5 L342,370.4 L343,370.3 L344,370.1 L345,370.0 L346,369.9 L347,369.7 L348,369.6 L349,369.5 L350,369.3 L351,369.2 L352,369.1 L353,368.9 L354,368.8 L355,368.7 L356,368.5 L357,368.4 L358,368.3 L359,368.2 L360,368.1 L361,368.0 L362,367.9 L363,367.8 L364,367.7 L365,367.6 L366,367.5 L367,367.4 L368,367.3 L369,367.3 L370,367.2 L371,367.1 L372,367.1 L373,367.0 L374,366.9 L375,366.9 L376,366.8 L377,366.8 L378,366.7 L379,366.7 L380,366.6 L381,366.5 L382,366.5 L383,366.4 L384,366.4 L385,366.3 L386,366.3 L387,366.3 L388,366.2 L389,366.1 L390,366.1 L391,366.0 L392,366.0 L393,365.9 L394,365.9 L395,365.8 L396,365.8 L397,365.7 L398,365.7 L399,365.6 L400,365.6 L401,365.6 L402,365.6 L403,365.5 L404,365.5 L405,365.5 L406,365.5 L407,365.5 L408,365.5 L409,365.5 L410,365.5 L411,365.5 L412,365.5 L413,365.5 L414,365.5 L415,365.5 L416,365.5 L417,365.5 L418,365.5 L419,365.5 L420,365.5 L421,365.5 L422,365.5 L423,365.5 L424,365.5 L425,365.5 L426,365.5 L427,365.5 L428,365.5 L429,365.5 L430,365.6 L431,365.6 L432,365.6 L433,365.6 L434,365.6 L435,365.6 L436,365.6 L437,365.6 L438,365.6 L439,365.6 L440,365.6 L441,365.6 L442,365.6 L443,365.6 L444,365.6 L445,365.6 L446,365.6 L447,365.6 L448,365.6 L449,365.7 L450,365.7 L451,365.7 L452,365.7 L453,365.7 L454,365.7 L455,365.7 L456,365.7 L457,365.7 L458,365.7 L459,365.7 L460,365.7 L461,365.8 L462,365.8 L463,365.8 L464,365.8 L465,365.8 L466,365.8 L467,365.9 L468,365.9 L469,365.9 L470,365.9 L471,366.0 L472,366.0 L473,366.0 L474,366.0 L475,366.1 L476,366.1 L477,366.1 L478,366.1 L479,366.2 L480,366.2 L481,366.2 L482,366.3 L483,366.3 L484,366.3 L485,366.3 L486,366.3 L487,366.4 L488,366.4 L489,366.4 L490,366.4 L491,366.4 L492,366.4 L493,366.5 L494,366.5 L495,366.5 L496,366.5 L497,366.5 L498,366.5 L499,366.5 L500,366.5 L501,366.5 L502,366.4 L503,366.3 L504,366.3 L505,366.2 L506,366.1 L507,365.9 L508,365.8 L509,365.7 L510,365.6 L511,365.5 L512,365.3 L513,365.2 L514,365.1 L515,365.0 L516,364.9 L517,364.8 L518,364.8 L519,364.7 L520,364.7 L521,364.7 L522,364.7 L523,364.6 L524,364.6 L525,364.6 L526,364.6 L527,364.6 L528,364.6 L529,364.6 L530,364.6 L531,364.5 L532,364.5 L533,364.5 L534,364.5 L535,364.5 L536,364.5 L537,364.5 L538,364.5 L539,364.5 L540,364.5 L541,364.5 L542,364.5 L543,364.6 L544,364.6 L545,364.7 L546,364.7 L547,364.8 L548,364.9 L549,365.0 L550,365.1 L551,365.1 L552,365.3 L553,365.4 L554,365.5 L555,365.6 L556,365.7 L557,365.8 L558,365.9 L559,366.0 L560,366.1 L561,366.2 L562,366.3 L563,366.4 L564,366.5 L565,366.7 L566,366.8 L567,366.9 L568,367.1 L569,367.2 L570,367.3 L571,367.5 L572,367.6 L573,367.8 L574,367.9 L575,368.0 L576,368.2 L577,368.3 L578,368.4 L579,368.6 L580,368.7 L581,368.8 L582,369.0 L583,369.1 L584,369.2 L585,369.3 L586,369.5 L587,369.6 L588,369.7 L589,369.9 L590,370.0 L591,370.1 L592,370.2 L593,370.4 L594,370.5 L595,370.6 L596,370.7 L597,370.8 L598,370.9 L599,371.0 L600,371.1 L601,371.2 L602,371.3 L603,371.4 L604,371.4 L605,371.5 L606,371.6 L607,371.7 L608,371.8 L609,371.8 L610,371.9 L611,372.0 L612,372.1 L613,372.1 L614,372.2 L615,372.2 L616,372.3 L617,372.4 L618,372.4 L619,372.5 L620,372.5 L621,372.5 L622,372.6 L623,372.6 L624,372.7 L625,372.7 L626,372.8 L627,372.8 L628,372.8 L629,372.9 L630,372.9 L631,372.9 L632,373.0 L633,373.0 L634,373.0 L635,373.0 L636,373.1 L637,373.1 L638,373.1 L639,373.1 L640,373.1 L641,373.1 L642,373.1 L643,373.1 L644,373.1 L645,373.1 L646,373.1 L647,373.1 L648,373.1 L649,373.1 L650,373.1 L651,373.1 L652,373.1 L653,373.1 L654,373.1 L655,373.1 L656,373.1 L657,373.1 L658,373.1 L659,373.1 L660,373.1 L661,373.1 L662,373.1 L663,373.1 L664,373.1 L665,373.1 L666,373.1 L667,373.1 L668,373.1 L669,373.1 L670,373.1 L671,373.1 L672,373.1 L673,373.1 L674,373.1 L675,373.1 L676,373.1 L677,373.1 L678,373.1 L679,373.1 L680,373.1 L681,373.1 L682,373.1 L683,373.1 L684,373.1 L685,373.1 L686,373.1 L687,373.1 L688,373.1 L689,373.1 L690,373.1 L691,373.1 L692,373.1 L693,373.1 L694,373.1 L695,373.1 L696,373.1 L697,373.1 L698,373.1 L699,373.1 L700,373.1 L701,373.1 L702,373.1 L703,373.1 L704,373.1 L705,373.1 L706,373.1 L707,373.1 L708,373.1 L709,373.1 L710,373.1 L711,373.1 L712,373.1 L713,373.1 L714,373.1 L715,373.1 L716,373.1 L717,373.1 L718,373.1 L719,373.1 L720,373.1 L721,373.1 L722,373.1 L723,373.1 L724,373.1 L725,373.1 L726,373.1 L727,373.1 L728,373.1 L729,373.1 L730,373.1 L731,373.1 L732,373.1 L733,373.1 L734,373.1 L735,373.1 L736,373.1 L737,373.1 L738,373.1 L739,373.1 L740,373.1 L741,373.1 L742,373.3 L743,373.4 L744,373.6 L745,373.8 L746,373.9 L747,374.1 L748,374.1 L749,374.1 L750,374.1 L751,374.1 L752,374.1 L753,374.1 L754,374.1 L755,374.1 L756,374.1 L757,374.1 L758,374.1 L759,374.1 L760,374.1 L761,374.1 L762,374.1 L763,374.1 L764,374.1 L765,374.1 L766,374.1 L767,374.1 L768,374.1 L769,374.1 L770,374.1 L771,374.1 L772,374.1 L773,374.1 L774,374.1 L775,374.1 L776,374.1 L777,374.1 L778,374.1 L779,374.1 L780,374.1 L781,374.1 L782,374.1 L783,374.1 L784,374.1 L785,374.1 L786,374.1 L786,423.5 L123,423.5 Z" fill="url(#gvlow)" stroke="none"/>
<path d="M123,377.5 L124,377.5 L125,377.5 L126,377.5 L127,377.5 L128,377.5 L129,377.5 L130,377.5 L131,377.5 L132,377.5 L133,377.5 L134,377.5 L135,377.5 L136,377.5 L137,377.5 L138,377.5 L139,377.5 L140,377.5 L141,377.5 L142,377.5 L143,377.5 L144,377.5 L145,377.5 L146,377.5 L147,377.5 L148,377.5 L149,377.5 L150,377.5 L151,377.5 L152,377.5 L153,377.5 L154,377.5 L155,377.5 L156,377.5 L157,377.5 L158,377.5 L159,377.5 L160,377.5 L161,377.5 L162,377.5 L163,377.5 L164,377.5 L165,377.5 L166,377.5 L167,377.5 L168,377.5 L169,377.5 L170,377.5 L171,377.5 L172,377.5 L173,377.5 L174,377.5 L175,377.5 L176,377.5 L177,377.5 L178,377.5 L179,377.5 L180,377.4 L181,377.4 L182,377.4 L183,377.3 L184,377.3 L185,377.2 L186,377.2 L187,377.1 L188,377.0 L189,377.0 L190,376.9 L191,376.8 L192,376.8 L193,376.7 L194,376.6 L195,376.5 L196,376.5 L197,376.4 L198,376.3 L199,376.3 L200,376.2 L201,376.1 L202,376.1 L203,376.0 L204,376.0 L205,375.9 L206,375.9 L207,375.8 L208,375.8 L209,375.7 L210,375.7 L211,375.7 L212,375.7 L213,375.7 L214,375.7 L215,375.7 L216,375.7 L217,375.7 L218,375.7 L219,375.7 L220,375.7 L221,375.7 L222,375.7 L223,375.7 L224,375.7 L225,375.6 L226,375.6 L227,375.6 L228,375.6 L229,375.6 L230,375.6 L231,375.6 L232,375.6 L233,375.6 L234,375.6 L235,375.6 L236,375.6 L237,375.6 L238,375.6 L239,375.6 L240,375.6 L241,375.6 L242,375.6 L243,375.6 L244,375.6 L245,375.6 L246,375.6 L247,375.6 L248,375.6 L249,375.6 L250,375.6 L251,375.6 L252,375.6 L253,375.6 L254,375.6 L255,375.6 L256,375.6 L257,375.6 L258,375.6 L259,375.6 L260,375.6 L261,375.6 L262,375.6 L263,375.6 L264,375.6 L265,375.6 L266,375.6 L267,375.6 L268,375.6 L269,375.6 L270,375.6 L271,375.6 L272,375.6 L273,375.6 L274,375.6 L275,375.6 L276,375.6 L277,375.6 L278,375.6 L279,375.6 L280,375.6 L281,375.6 L282,375.6 L283,375.6 L284,375.6 L285,375.5 L286,375.5 L287,375.5 L288,375.5 L289,375.5 L290,375.5 L291,375.5 L292,375.5 L293,375.5 L294,375.5 L295,375.5 L296,375.5 L297,375.4 L298,375.4 L299,375.3 L300,375.2 L301,375.1 L302,375.0 L303,374.9 L304,374.8 L305,374.6 L306,374.5 L307,374.3 L308,374.2 L309,374.0 L310,373.9 L311,373.7 L312,373.6 L313,373.5 L314,373.3 L315,373.2 L316,373.1 L317,373.0 L318,372.9 L319,372.8 L320,372.7 L321,372.6 L322,372.5 L323,372.4 L324,372.3 L325,372.2 L326,372.1 L327,372.0 L328,371.9 L329,371.8 L330,371.7 L331,371.6 L332,371.5 L333,371.4 L334,371.3 L335,371.2 L336,371.1 L337,371.0 L338,370.9 L339,370.8 L340,370.6 L341,370.5 L342,370.4 L343,370.3 L344,370.1 L345,370.0 L346,369.9 L347,369.7 L348,369.6 L349,369.5 L350,369.3 L351,369.2 L352,369.1 L353,368.9 L354,368.8 L355,368.7 L356,368.5 L357,368.4 L358,368.3 L359,368.2 L360,368.1 L361,368.0 L362,367.9 L363,367.8 L364,367.7 L365,367.6 L366,367.5 L367,367.4 L368,367.3 L369,367.3 L370,367.2 L371,367.1 L372,367.1 L373,367.0 L374,366.9 L375,366.9 L376,366.8 L377,366.8 L378,366.7 L379,366.7 L380,366.6 L381,366.5 L382,366.5 L383,366.4 L384,366.4 L385,366.3 L386,366.3 L387,366.3 L388,366.2 L389,366.1 L390,366.1 L391,366.0 L392,366.0 L393,365.9 L394,365.9 L395,365.8 L396,365.8 L397,365.7 L398,365.7 L399,365.6 L400,365.6 L401,365.6 L402,365.6 L403,365.5 L404,365.5 L405,365.5 L406,365.5 L407,365.5 L408,365.5 L409,365.5 L410,365.5 L411,365.5 L412,365.5 L413,365.5 L414,365.5 L415,365.5 L416,365.5 L417,365.5 L418,365.5 L419,365.5 L420,365.5 L421,365.5 L422,365.5 L423,365.5 L424,365.5 L425,365.5 L426,365.5 L427,365.5 L428,365.5 L429,365.5 L430,365.6 L431,365.6 L432,365.6 L433,365.6 L434,365.6 L435,365.6 L436,365.6 L437,365.6 L438,365.6 L439,365.6 L440,365.6 L441,365.6 L442,365.6 L443,365.6 L444,365.6 L445,365.6 L446,365.6 L447,365.6 L448,365.6 L449,365.7 L450,365.7 L451,365.7 L452,365.7 L453,365.7 L454,365.7 L455,365.7 L456,365.7 L457,365.7 L458,365.7 L459,365.7 L460,365.7 L461,365.8 L462,365.8 L463,365.8 L464,365.8 L465,365.8 L466,365.8 L467,365.9 L468,365.9 L469,365.9 L470,365.9 L471,366.0 L472,366.0 L473,366.0 L474,366.0 L475,366.1 L476,366.1 L477,366.1 L478,366.1 L479,366.2 L480,366.2 L481,366.2 L482,366.3 L483,366.3 L484,366.3 L485,366.3 L486,366.3 L487,366.4 L488,366.4 L489,366.4 L490,366.4 L491,366.4 L492,366.4 L493,366.5 L494,366.5 L495,366.5 L496,366.5 L497,366.5 L498,366.5 L499,366.5 L500,366.5 L501,366.5 L502,366.4 L503,366.3 L504,366.3 L505,366.2 L506,366.1 L507,365.9 L508,365.8 L509,365.7 L510,365.6 L511,365.5 L512,365.3 L513,365.2 L514,365.1 L515,365.0 L516,364.9 L517,364.8 L518,364.8 L519,364.7 L520,364.7 L521,364.7 L522,364.7 L523,364.6 L524,364.6 L525,364.6 L526,364.6 L527,364.6 L528,364.6 L529,364.6 L530,364.6 L531,364.5 L532,364.5 L533,364.5 L534,364.5 L535,364.5 L536,364.5 L537,364.5 L538,364.5 L539,364.5 L540,364.5 L541,364.5 L542,364.5 L543,364.6 L544,364.6 L545,364.7 L546,364.7 L547,364.8 L548,364.9 L549,365.0 L550,365.1 L551,365.1 L552,365.3 L553,365.4 L554,365.5 L555,365.6 L556,365.7 L557,365.8 L558,365.9 L559,366.0 L560,366.1 L561,366.2 L562,366.3 L563,366.4 L564,366.5 L565,366.7 L566,366.8 L567,366.9 L568,367.1 L569,367.2 L570,367.3 L571,367.5 L572,367.6 L573,367.8 L574,367.9 L575,368.0 L576,368.2 L577,368.3 L578,368.4 L579,368.6 L580,368.7 L581,368.8 L582,369.0 L583,369.1 L584,369.2 L585,369.3 L586,369.5 L587,369.6 L588,369.7 L589,369.9 L590,370.0 L591,370.1 L592,370.2 L593,370.4 L594,370.5 L595,370.6 L596,370.7 L597,370.8 L598,370.9 L599,371.0 L600,371.1 L601,371.2 L602,371.3 L603,371.4 L604,371.4 L605,371.5 L606,371.6 L607,371.7 L608,371.8 L609,371.8 L610,371.9 L611,372.0 L612,372.1 L613,372.1 L614,372.2 L615,372.2 L616,372.3 L617,372.4 L618,372.4 L619,372.5 L620,372.5 L621,372.5 L622,372.6 L623,372.6 L624,372.7 L625,372.7 L626,372.8 L627,372.8 L628,372.8 L629,372.9 L630,372.9 L631,372.9 L632,373.0 L633,373.0 L634,373.0 L635,373.0 L636,373.1 L637,373.1 L638,373.1 L639,373.1 L640,373.1 L641,373.1 L642,373.1 L643,373.1 L644,373.1 L645,373.1 L646,373.1 L647,373.1 L648,373.1 L649,373.1 L650,373.1 L651,373.1 L652,373.1 L653,373.1 L654,373.1 L655,373.1 L656,373.1 L657,373.1 L658,373.1 L659,373.1 L660,373.1 L661,373.1 L662,373.1 L663,373.1 L664,373.1 L665,373.1 L666,373.1 L667,373.1 L668,373.1 L669,373.1 L670,373.1 L671,373.1 L672,373.1 L673,373.1 L674,373.1 L675,373.1 L676,373.1 L677,373.1 L678,373.1 L679,373.1 L680,373.1 L681,373.1 L682,373.1 L683,373.1 L684,373.1 L685,373.1 L686,373.1 L687,373.1 L688,373.1 L689,373.1 L690,373.1 L691,373.1 L692,373.1 L693,373.1 L694,373.1 L695,373.1 L696,373.1 L697,373.1 L698,373.1 L699,373.1 L700,373.1 L701,373.1 L702,373.1 L703,373.1 L704,373.1 L705,373.1 L706,373.1 L707,373.1 L708,373.1 L709,373.1 L710,373.1 L711,373.1 L712,373.1 L713,373.1 L714,373.1 L715,373.1 L716,373.1 L717,373.1 L718,373.1 L719,373.1 L720,373.1 L721,373.1 L722,373.1 L723,373.1 L724,373.1 L725,373.1 L726,373.1 L727,373.1 L728,373.1 L729,373.1 L730,373.1 L731,373.1 L732,373.1 L733,373.1 L734,373.1 L735,373.1 L736,373.1 L737,373.1 L738,373.1 L739,373.1 L740,373.1 L741,373.1 L742,373.3 L743,373.4 L744,373.6 L745,373.8 L746,373.9 L747,374.1 L748,374.1 L749,374.1 L750,374.1 L751,374.1 L752,374.1 L753,374.1 L754,374.1 L755,374.1 L756,374.1 L757,374.1 L758,374.1 L759,374.1 L760,374.1 L761,374.1 L762,374.1 L763,374.1 L764,374.1 L765,374.1 L766,374.1 L767,374.1 L768,374.1 L769,374.1 L770,374.1 L771,374.1 L772,374.1 L773,374.1 L774,374.1 L775,374.1 L776,374.1 L777,374.1 L778,374.1 L779,374.1 L780,374.1 L781,374.1 L782,374.1 L783,374.1 L784,374.1 L785,374.1 L786,374.1" fill="none" stroke="#FFA07A" stroke-width="1"/>
</g>
<g shape-rendering="crispEdges" fill="none">
<path d="M123,154.5 L124,154.4 L125,154.4 L126,154.3 L127,154.2 L128,154.1 L129,154.1 L130,154.0 L131,153.9 L132,153.8 L133,153.8 L134,153.7 L135,153.6 L136,153.5 L137,153.5 L138,153.4 L139,153.3 L140,153.2 L141,153.2 L142,153.1 L143,153.0 L144,152.9 L145,152.9 L146,152.8 L147,152.7 L148,152.6 L149,152.5 L150,152.4 L151,152.3 L152,152.2 L153,152.1 L154,152.0 L155,151.9 L156,151.8 L157,151.8 L158,151.7 L159,151.6 L160,151.6 L161,151.6 L162,151.5 L163,151.5 L164,151.5 L165,151.5 L166,151.5 L167,151.5 L168,151.5 L169,151.5 L170,151.5 L171,151.5 L172,151.5 L173,151.5 L174,151.5 L175,151.5 L176,151.5 L177,151.5 L178,151.5 L179,151.5 L180,151.5 L181,151.5 L182,151.6 L183,151.6 L184,151.7 L185,151.8 L186,152.0 L187,152.1 L188,152.3 L189,152.5 L190,152.6 L191,152.8 L192,153.0 L193,153.2 L194,153.4 L195,153.5 L196,153.7 L197,153.9 L198,154.0 L199,154.2 L200,154.3 L201,154.5 L202,154.7 L203,154.8 L204,155.0 L205,155.2 L206,155.4 L207,155.5 L208,155.7 L209,155.9 L210,156.1 L211,156.3 L212,156.5 L213,156.7 L214,156.9 L215,157.2 L216,157.4 L217,157.7 L218,158.0 L219,158.2 L220,158.5 L221,158.7 L222,158.9 L223,159.1 L224,159.3 L225,159.5 L226,159.6 L227,159.8 L228,159.9 L229,160.1 L230,160.2 L231,160.4 L232,160.5 L233,160.6 L234,160.6 L235,160.7 L236,160.7 L237,160.7 L238,160.7 L239,160.7 L240,160.7 L241,160.7 L242,160.7 L243,160.7 L244,160.7 L245,160.7 L246,160.7 L247,160.7 L248,160.7 L249,160.7 L250,160.7 L251,160.7 L252,160.7 L253,160.7 L254,160.6 L255,160.5 L256,160.4 L257,160.2 L258,160.0 L259,159.8 L260,159.6 L261,159.4 L262,159.2 L263,158.9 L264,158.7 L265,158.5 L266,158.3 L267,158.1 L268,157.9 L269,157.7 L270,157.5 L271,157.3 L272,157.1 L273,156.9 L274,156.7 L275,156.5 L276,156.3 L277,156.1 L278,155.9 L279,155.7 L280,155.5 L281,155.3 L282,155.2 L283,155.0 L284,154.9 L285,154.7 L286,154.6 L287,154.4 L288,154.3 L289,154.1 L290,154.0 L291,153.8 L292,153.6 L293,153.5 L294,153.3 L295,153.1 L296,152.9 L297,152.7 L298,152.5 L299,152.3 L300,152.2 L301,152.0 L302,151.8 L303,151.7 L304,151.6 L305,151.5 L306,151.5 L307,151.5 L308,151.5 L309,151.5 L310,151.5 L311,151.5 L312,151.5 L313,151.5 L314,151.5 L315,151.5 L316,151.5 L317,151.5 L318,151.5 L319,151.5 L320,151.5 L321,151.5 L322,151.5 L323,151.5 L324,151.5 L325,151.5 L326,151.5 L327,151.5 L328,151.5 L329,151.5 L330,151.5 L331,151.5 L332,151.5 L333,151.5 L334,151.5 L335,151.7 L336,152.0 L337,152.3 L338,152.5 L339,152.5 L340,152.5 L341,152.5 L342,152.5 L343,152.5 L344,152.5 L345,152.5 L346,152.5 L347,152.5 L348,152.5 L349,152.5 L350,152.5 L351,152.5 L352,152.5 L353,152.5 L354,152.5 L355,152.5 L356,152.5 L357,152.5 L358,152.4 L359,152.4 L360,152.3 L361,152.2 L362,152.1 L363,151.9 L364,151.8 L365,151.6 L366,151.5 L367,151.3 L368,151.1 L369,151.0 L370,150.8 L371,150.6 L372,150.5 L373,150.4 L374,150.2 L375,150.0 L376,149.9 L377,149.7 L378,149.5 L379,149.4 L380,149.2 L381,149.0 L382,148.8 L383,148.7 L384,148.5 L385,148.3 L386,148.1 L387,147.9 L388,147.7 L389,147.5 L390,147.3 L391,147.2 L392,147.0 L393,146.8 L394,146.6 L395,146.4 L396,146.1 L397,145.9 L398,145.7 L399,145.5 L400,145.3 L401,145.1 L402,144.9 L403,144.6 L404,144.4 L405,144.2 L406,143.9 L407,143.7 L408,143.4 L409,143.2 L410,142.9 L411,142.7 L412,142.5 L413,142.2 L414,142.0 L415,141.7 L416,141.5 L417,141.3 L418,141.0 L419,140.8 L420,140.6 L421,140.4 L422,140.2 L423,140.0 L424,139.7 L425,139.5 L426,139.3 L427,139.0 L428,138.7 L429,138.4 L430,138.0 L431,137.6 L432,137.2 L433,136.8 L434,136.4 L435,136.0 L436,135.5 L437,135.1 L438,134.6 L439,134.1 L440,133.7 L441,133.3 L442,132.8 L443,132.4 L444,132.0 L445,131.5 L446,131.1 L447,130.6 L448,130.2 L449,129.7 L450,129.2 L451,128.7 L452,128.3 L453,127.9 L454,127.4 L455,127.0 L456,126.6 L457,126.2 L458,125.8 L459,125.4 L460,125.0 L461,124.6 L462,124.2 L463,123.8 L464,123.5 L465,123.2 L466,122.8 L467,122.4 L468,122.1 L469,121.8 L470,121.5 L471,121.3 L472,121.1 L473,121.0 L474,120.8 L475,120.7 L476,120.5 L477,120.4 L478,120.4 L479,120.3 L480,120.3 L481,120.3 L482,120.4 L483,120.5 L484,120.7 L485,120.9 L486,121.1 L487,121.3 L488,121.5 L489,121.7 L490,122.0 L491,122.4 L492,122.8 L493,123.2 L494,123.6 L495,124.1 L496,124.5 L497,125.0 L498,125.5 L499,126.0 L500,126.5 L501,127.0 L502,127.5 L503,128.1 L504,128.6 L505,129.1 L506,129.7 L507,130.3 L508,130.9 L509,131.5 L510,132.1 L511,132.8 L512,133.5 L513,134.2 L514,135.0 L515,135.8 L516,136.6 L517,137.4 L518,138.2 L519,138.9 L520,139.7 L521,140.5 L522,141.2 L523,142.0 L524,142.8 L525,143.6 L526,144.4 L527,145.1 L528,145.8 L529,146.5 L530,147.1 L531,147.7 L532,148.3 L533,148.8 L534,149.3 L535,149.8 L536,150.3 L537,150.8 L538,151.2 L539,151.7 L540,152.1 L541,152.5 L542,152.9 L543,153.3 L544,153.7 L545,154.0 L546,154.4 L547,154.7 L548,154.9 L549,155.1 L550,155.4 L551,155.6 L552,155.8 L553,156.0 L554,156.2 L555,156.3 L556,156.4 L557,156.5 L558,156.5 L559,156.5 L560,156.5 L561,156.5 L562,156.5 L563,156.5 L564,156.5 L565,156.5 L566,156.5 L567,156.5 L568,156.5 L569,156.5 L570,156.5 L571,156.5 L572,156.5 L573,156.5 L574,156.5 L575,156.5 L576,156.5 L577,156.5 L578,156.5 L579,156.5 L580,156.5 L581,156.5 L582,156.5 L583,156.5 L584,156.5 L585,156.5 L586,156.5 L587,156.5 L588,156.5 L589,156.5 L590,156.5 L591,156.5 L592,156.5 L593,156.5 L594,156.5 L595,156.5 L596,156.5 L597,156.5 L598,156.5 L599,156.5 L600,156.5 L601,156.5 L602,156.5 L603,156.5 L604,156.5 L605,156.5 L606,156.5 L607,156.5 L608,156.5 L609,156.5 L610,156.5 L611,156.5 L612,156.5 L613,156.5 L614,156.5 L615,156.5 L616,156.5 L617,157.0 L618,157.5 L619,157.5 L620,157.5 L621,157.5 L622,157.5 L623,157.5 L624,157.5 L625,157.5 L626,157.5 L627,157.5 L628,157.5 L629,157.5 L630,157.5 L631,157.5 L632,157.5 L633,157.5 L634,157.5 L635,157.5 L636,157.5 L637,157.5 L638,157.5 L639,157.5 L640,157.5 L641,157.5 L642,157.5 L643,157.5 L644,157.5 L645,157.5 L646,157.5 L647,157.5 L648,157.5 L649,157.5 L650,157.5 L651,157.5 L652,157.5 L653,157.5 L654,157.5 L655,157.5 L656,157.5 L657,157.5 L658,157.5 L659,157.5 L660,157.5 L661,157.5 L662,157.5 L663,157.5 L664,157.5 L665,157.5 L666,157.5 L667,157.5 L668,157.5 L669,157.5 L670,157.5 L671,157.5 L672,157.5 L673,157.5 L674,157.5 L675,157.5 L676,157.5 L677,157.5 L678,157.5 L679,157.5 L680,157.5 L681,157.5 L682,157.5 L683,157.5 L684,157.5 L685,157.5 L686,157.5 L687,157.5 L688,157.5 L689,157.5 L690,157.5 L691,157.5 L692,157.5 L693,157.5 L694,157.5 L695,157.5 L696,157.5 L697,157.0 L698,156.5 L699,156.5 L700,156.5 L701,156.5 L702,156.5 L703,156.5 L704,156.5 L705,156.5 L706,156.5 L707,156.5 L708,156.5 L709,156.5 L710,156.5 L711,156.5 L712,156.5 L713,156.5 L714,156.5 L715,156.5 L716,156.5 L717,156.5 L718,156.5 L719,156.5 L720,156.5 L721,156.5 L722,156.5 L723,156.5 L724,156.5 L725,156.5 L726,156.5 L727,156.5 L728,156.5 L729,156.5 L730,156.5 L731,156.5 L732,156.5 L733,156.5 L734,156.5 L735,156.5 L736,156.5 L737,156.5 L738,156.5 L739,156.5 L740,156.5 L741,156.5 L742,156.5 L743,157.0 L744,157.5 L745,157.5 L746,157.5 L747,157.5 L748,157.5 L749,157.5 L750,157.5 L751,157.5 L752,157.5 L753,157.5 L754,157.5 L755,157.5 L756,157.5 L757,157.5 L758,157.5 L759,157.5 L760,157.5 L761,157.5 L762,157.5 L763,158.1 L764,158.7 L765,158.7 L766,158.7 L767,158.7 L768,158.7 L769,158.7 L770,158.7 L771,158.7 L772,158.7 L773,158.7 L774,158.7 L775,158.7 L776,158.7 L777,158.7 L778,158.7 L779,158.7 L780,158.7 L781,159.2 L782,159.7 L783,159.7 L784,159.7 L785,159.7 L786,159.7" stroke="#0000FF" stroke-width="1" stroke-dasharray="3 1 1 1 1 1"/>
<path d="M123,411.0 L124,411.1 L125,411.2 L126,411.2 L127,411.3 L128,411.4 L129,411.5 L130,411.5 L131,411.6 L132,411.7 L133,411.8 L134,411.8 L135,411.9 L136,412.0 L137,412.0 L138,412.1 L139,412.2 L140,412.2 L141,412.3 L142,412.4 L143,412.4 L144,412.5 L145,412.6 L146,412.6 L147,412.7 L148,412.8 L149,412.8 L150,412.9 L151,413.0 L152,413.1 L153,413.2 L154,413.2 L155,413.3 L156,413.4 L157,413.5 L158,413.5 L159,413.6 L160,413.7 L161,413.7 L162,413.8 L163,413.8 L164,413.9 L165,413.9 L166,414.0 L167,414.0 L168,414.0 L169,414.1 L170,414.1 L171,414.1 L172,414.1 L173,414.1 L174,414.1 L175,414.1 L176,414.1 L177,414.1 L178,414.1 L179,414.1 L180,414.1 L181,414.1 L182,414.1 L183,414.1 L184,414.1 L185,414.1 L186,414.1 L187,414.1 L188,414.1 L189,414.1 L190,414.1 L191,414.1 L192,414.1 L193,414.1 L194,414.1 L195,414.0 L196,413.9 L197,413.9 L198,413.8 L199,413.7 L200,413.6 L201,413.4 L202,413.3 L203,413.2 L204,413.0 L205,412.9 L206,412.8 L207,412.6 L208,412.5 L209,412.4 L210,412.3 L211,412.2 L212,412.1 L213,412.0 L214,411.9 L215,411.9 L216,411.8 L217,411.7 L218,411.6 L219,411.5 L220,411.4 L221,411.4 L222,411.3 L223,411.2 L224,411.1 L225,411.1 L226,411.0 L227,410.9 L228,410.9 L229,410.8 L230,410.7 L231,410.7 L232,410.6 L233,410.6 L234,410.6 L235,410.5 L236,410.5 L237,410.5 L238,410.5 L239,410.4 L240,410.4 L241,410.4 L242,410.4 L243,410.3 L244,410.3 L245,410.3 L246,410.3 L247,410.3 L248,410.2 L249,410.2 L250,410.2 L251,410.2 L252,410.2 L253,410.2 L254,410.1 L255,410.1 L256,410.1 L257,410.1 L258,410.1 L259,410.1 L260,410.1 L261,410.1 L262,410.1 L263,410.1 L264,410.1 L265,410.1 L266,410.1 L267,410.1 L268,410.1 L269,410.1 L270,410.1 L271,410.1 L272,410.1 L273,410.1 L274,410.1 L275,410.1 L276,410.1 L277,410.1 L278,410.1 L279,410.1 L280,410.1 L281,410.1 L282,410.1 L283,410.1 L284,410.1 L285,410.1 L286,410.2 L287,410.2 L288,410.3 L289,410.4 L290,410.5 L291,410.6 L292,410.7 L293,410.8 L294,410.9 L295,411.0 L296,411.1 L297,411.2 L298,411.2 L299,411.3 L300,411.3 L301,411.4 L302,411.4 L303,411.5 L304,411.5 L305,411.6 L306,411.6 L307,411.6 L308,411.7 L309,411.7 L310,411.8 L311,411.8 L312,411.9 L313,411.9 L314,412.0 L315,412.0 L316,412.1 L317,412.2 L318,412.2 L319,412.3 L320,412.4 L321,412.4 L322,412.5 L323,412.6 L324,412.7 L325,412.8 L326,412.8 L327,412.9 L328,413.0 L329,413.1 L330,413.2 L331,413.3 L332,413.4 L333,413.4 L334,413.5 L335,413.6 L336,413.7 L337,413.8 L338,413.9 L339,414.0 L340,414.1 L341,414.2 L342,414.3 L343,414.5 L344,414.6 L345,414.7 L346,414.8 L347,414.9 L348,414.9 L349,415.0 L350,415.1 L351,415.1 L352,415.1 L353,415.1 L354,415.1 L355,415.0 L356,415.0 L357,414.9 L358,414.8 L359,414.8 L360,414.7 L361,414.6 L362,414.5 L363,414.4 L364,414.3 L365,414.2 L366,414.1 L367,414.0 L368,413.9 L369,413.8 L370,413.7 L371,413.5 L372,413.4 L373,413.2 L374,413.1 L375,412.9 L376,412.8 L377,412.6 L378,412.5 L379,412.3 L380,412.1 L381,411.9 L382,411.7 L383,411.5 L384,411.3 L385,411.0 L386,410.8 L387,410.5 L388,410.2 L389,410.0 L390,409.7 L391,409.4 L392,409.2 L393,408.9 L394,408.6 L395,408.4 L396,408.1 L397,407.9 L398,407.6 L399,407.4 L400,407.1 L401,406.9 L402,406.6 L403,406.4 L404,406.1 L405,405.9 L406,405.6 L407,405.4 L408,405.1 L409,404.9 L410,404.6 L411,404.4 L412,404.1 L413,403.9 L414,403.6 L415,403.4 L416,403.1 L417,402.9 L418,402.6 L419,402.4 L420,402.1 L421,401.9 L422,401.6 L423,401.4 L424,401.1 L425,400.9 L426,400.6 L427,400.4 L428,400.1 L429,399.8 L430,399.6 L431,399.3 L432,399.0 L433,398.7 L434,398.4 L435,398.1 L436,397.8 L437,397.5 L438,397.2 L439,396.9 L440,396.7 L441,396.4 L442,396.1 L443,395.8 L444,395.5 L445,395.2 L446,394.9 L447,394.6 L448,394.4 L449,394.1 L450,393.8 L451,393.5 L452,393.2 L453,392.9 L454,392.7 L455,392.4 L456,392.1 L457,391.9 L458,391.6 L459,391.3 L460,391.1 L461,390.9 L462,390.6 L463,390.4 L464,390.2 L465,389.9 L466,389.7 L467,389.5 L468,389.3 L469,389.1 L470,388.9 L471,388.7 L472,388.5 L473,388.3 L474,388.1 L475,387.9 L476,387.7 L477,387.5 L478,387.3 L479,387.1 L480,386.9 L481,386.7 L482,386.5 L483,386.4 L484,386.3 L485,386.2 L486,386.1 L487,386.0 L488,386.0 L489,386.0 L490,385.9 L491,385.9 L492,385.8 L493,385.8 L494,385.8 L495,385.7 L496,385.7 L497,385.7 L498,385.7 L499,385.7 L500,385.7 L501,385.7 L502,385.7 L503,385.7 L504,385.7 L505,385.8 L506,385.8 L507,385.8 L508,385.8 L509,385.9 L510,385.9 L511,385.9 L512,386.0 L513,386.0 L514,386.1 L515,386.1 L516,386.1 L517,386.2 L518,386.2 L519,386.3 L520,386.3 L521,386.3 L522,386.4 L523,386.5 L524,386.5 L525,386.6 L526,386.7 L527,386.8 L528,386.8 L529,386.9 L530,387.0 L531,387.1 L532,387.2 L533,387.3 L534,387.4 L535,387.4 L536,387.5 L537,387.6 L538,387.6 L539,387.7 L540,387.7 L541,387.7 L542,387.8 L543,387.8 L544,387.8 L545,387.8 L546,387.9 L547,387.9 L548,387.9 L549,387.9 L550,387.9 L551,387.9 L552,388.0 L553,388.0 L554,388.0 L555,388.0 L556,388.0 L557,388.0 L558,388.0 L559,388.1 L560,388.1 L561,388.1 L562,388.1 L563,388.1 L564,388.1 L565,388.2 L566,388.2 L567,388.2 L568,388.2 L569,388.3 L570,388.3 L571,388.3 L572,388.4 L573,388.5 L574,388.6 L575,388.6 L576,388.7 L577,388.8 L578,388.8 L579,388.9 L580,388.9 L581,388.9 L582,388.9 L583,388.9 L584,388.9 L585,388.9 L586,388.9 L587,388.9 L588,389.0 L589,389.0 L590,389.0 L591,389.0 L592,389.0 L593,389.0 L594,389.0 L595,389.0 L596,389.0 L597,389.0 L598,389.0 L599,389.0 L600,389.0 L601,389.0 L602,389.0 L603,389.0 L604,389.0 L605,389.0 L606,389.0 L607,389.0 L608,389.0 L609,389.0 L610,389.0 L611,389.0 L612,389.0 L613,389.0 L614,389.0 L615,389.0 L616,389.0 L617,389.0 L618,389.0 L619,389.0 L620,389.0 L621,389.0 L622,389.0 L623,389.0 L624,389.0 L625,389.0 L626,389.0 L627,389.0 L628,389.0 L629,389.0 L630,389.0 L631,389.0 L632,389.0 L633,389.1 L634,389.1 L635,389.1 L636,389.1 L637,389.1 L638,389.1 L639,389.1 L640,389.1 L641,389.1 L642,389.2 L643,389.3 L644,389.4 L645,389.5 L646,389.6 L647,389.7 L648,389.8 L649,389.9 L650,390.0 L651,390.1 L652,390.1 L653,390.1 L654,390.1 L655,390.1 L656,390.1 L657,390.1 L658,390.1 L659,390.1 L660,390.1 L661,390.1 L662,390.1 L663,390.1 L664,390.1 L665,390.1 L666,390.1 L667,390.1 L668,390.1 L669,390.1 L670,390.0 L671,389.9 L672,389.8 L673,389.7 L674,389.6 L675,389.5 L676,389.4 L677,389.3 L678,389.2 L679,389.1 L680,389.1 L681,389.1 L682,389.1 L683,389.1 L684,389.1 L685,389.1 L686,389.1 L687,389.1 L688,389.1 L689,389.1 L690,389.1 L691,389.1 L692,389.1 L693,389.1 L694,389.1 L695,389.1 L696,389.1 L697,389.1 L698,389.1 L699,389.1 L700,389.1 L701,389.1 L702,389.1 L703,389.1 L704,389.1 L705,389.1 L706,389.1 L707,389.1 L708,389.1 L709,389.1 L710,389.1 L711,389.1 L712,389.1 L713,389.1 L714,389.1 L715,389.1 L716,389.1 L717,389.1 L718,389.2 L719,389.2 L720,389.3 L721,389.5 L722,389.6 L723,389.8 L724,390.0 L725,390.1 L726,390.3 L727,390.5 L728,390.7 L729,390.9 L730,391.1 L731,391.3 L732,391.5 L733,391.7 L734,392.0 L735,392.2 L736,392.5 L737,392.7 L738,393.0 L739,393.3 L740,393.6 L741,393.8 L742,394.1 L743,394.4 L744,394.7 L745,395.0 L746,395.3 L747,395.6 L748,395.9 L749,396.2 L750,396.6 L751,396.9 L752,397.2 L753,397.5 L754,397.9 L755,398.2 L756,398.5 L757,398.8 L758,399.1 L759,399.4 L760,399.7 L761,400.0 L762,400.3 L763,400.6 L764,400.9 L765,401.2 L766,401.5 L767,401.8 L768,402.1 L769,402.4 L770,402.7 L771,403.0 L772,403.2 L773,403.5 L774,403.8 L775,404.1 L776,404.4 L777,404.7 L778,404.9 L779,405.2 L780,405.5 L781,405.8 L782,406.0 L783,406.3 L784,406.6 L785,406.8 L786,407.1" stroke="#FFFF00" stroke-width="2" stroke-dasharray="6 2 2 2 2 2"/>
<path d="M100,280.5 L101,279.6 L102,278.7 L103,277.8 L104,276.8 L105,275.7 L106,274.6 L107,273.5 L108,272.4 L109,271.4 L110,270.4 L111,269.5 L112,268.7 L113,268.0 L114,267.5 L115,267.1 L116,266.8 L117,266.5 L118,266.3 L119,266.0 L120,265.8 L121,265.6 L122,265.4 L123,265.3 L124,265.1 L125,264.9 L126,264.5 L127,264.0 L128,263.3 L129,262.6 L130,261.7 L131,260.9 L132,260.0 L133,259.1 L134,258.2 L135,257.2 L136,256.2 L137,255.2 L138,254.1 L139,252.9 L140,251.6 L141,250.5 L142,249.4 L143,248.5 L144,247.8 L145,247.2 L146,246.7 L147,246.2 L148,245.7 L149,245.2 L150,244.5 L151,243.7 L152,243.0 L153,242.1 L154,241.2 L155,240.2 L156,239.1 L157,237.8 L158,236.4 L159,234.8 L160,233.1 L161,231.3 L162,229.5 L163,227.6 L164,225.7 L165,223.8 L166,222.1 L167,220.5 L168,218.9 L169,217.4 L170,215.9 L171,214.5 L172,213.1 L173,211.8 L174,210.5 L175,209.2 L176,208.1 L177,207.0 L178,205.9 L179,205.0 L180,204.1 L181,203.3 L182,202.6 L183,202.0 L184,201.4 L185,201.0 L186,200.7 L187,200.6 L188,200.5 L189,200.5 L190,200.5 L191,200.6 L192,200.7 L193,200.8 L194,200.9 L195,201.1 L196,201.3 L197,201.5 L198,201.8 L199,202.1 L200,202.3 L201,202.6 L202,202.8 L203,203.1 L204,203.3 L205,203.5 L206,203.7 L207,203.8 L208,204.0 L209,204.1 L210,204.2 L211,204.4 L212,204.5 L213,204.6 L214,204.6 L215,204.6 L216,204.6 L217,204.5 L218,204.4 L219,204.4 L220,204.4 L221,204.5 L222,204.7 L223,205.1 L224,205.8 L225,206.6 L226,207.7 L227,209.0 L228,210.6 L229,212.3 L230,214.2 L231,216.1 L232,218.1 L233,220.2 L234,222.5 L235,224.6 L236,226.5 L237,227.9 L238,229.0 L239,229.9 L240,230.7 L241,231.5 L242,232.4 L243,233.2 L244,233.9 L245,234.5 L246,235.1 L247,235.6 L248,235.9 L249,236.2 L250,236.4 L251,236.5 L252,236.6 L253,236.6 L254,236.5 L255,236.4 L256,236.2 L257,236.1 L258,235.8 L259,235.6 L260,235.3 L261,234.9 L262,234.5 L263,234.0 L264,233.5 L265,233.0 L266,232.4 L267,231.8 L268,231.2 L269,230.6 L270,230.1 L271,229.6 L272,229.1 L273,228.7 L274,228.3 L275,227.9 L276,227.5 L277,227.2 L278,226.9 L279,226.7 L280,226.5 L281,226.4 L282,226.3 L283,226.3 L284,226.3 L285,226.3 L286,226.3 L287,226.4 L288,226.5 L289,226.6 L290,226.8 L291,227.0 L292,227.2 L293,227.4 L294,227.5 L295,227.6 L296,227.7 L297,227.7 L298,227.7 L299,227.7 L300,227.6 L301,227.6 L302,227.6 L303,227.5 L304,227.4 L305,227.4 L306,227.3 L307,227.2 L308,227.1 L309,227.0 L310,226.8 L311,226.7 L312,226.6 L313,226.5 L314,226.4 L315,226.3 L316,226.3 L317,226.3 L318,226.4 L319,226.5 L320,226.6 L321,226.7 L322,226.8 L323,226.9 L324,227.1 L325,227.2 L326,227.3 L327,227.4 L328,227.5 L329,227.7 L330,227.8 L331,228.0 L332,228.1 L333,228.3 L334,228.5 L335,228.8 L336,229.4 L337,230.2 L338,231.1 L339,232.1 L340,233.2 L341,234.5 L342,235.7 L343,237.0 L344,238.1 L345,239.2 L346,240.2 L347,241.2 L348,242.2 L349,243.1 L350,243.9 L351,244.7 L352,245.3 L353,245.9 L354,246.4 L355,246.9 L356,247.3 L357,247.7 L358,248.0 L359,248.3 L360,248.6 L361,248.8 L362,249.0 L363,249.2 L364,249.3 L365,249.4 L366,249.4 L367,249.5 L368,249.4 L369,249.3 L370,249.3 L371,249.1 L372,249.0 L373,248.9 L374,248.8 L375,248.7 L376,248.6 L377,248.5 L378,248.5 L379,248.5 L380,248.5 L381,248.7 L382,249.0 L383,249.5 L384,250.1 L385,250.7 L386,251.2 L387,251.7 L388,252.1 L389,252.3 L390,252.3 L391,252.0 L392,251.6 L393,250.8 L394,249.8 L395,248.6 L396,247.2 L397,245.7 L398,244.3 L399,242.9 L400,241.6 L401,240.4 L402,239.1 L403,237.9 L404,236.7 L405,235.5 L406,234.5 L407,233.7 L408,233.1 L409,232.6 L410,232.1 L411,231.6 L412,231.1 L413,230.6 L414,230.1 L415,229.6 L416,229.1 L417,228.6 L418,228.1 L419,227.6 L420,227.1 L421,226.6 L422,226.1 L423,225.6 L424,225.1 L425,224.6 L426,224.1 L427,223.6 L428,223.1 L429,222.7 L430,222.4 L431,222.3 L432,222.2 L433,222.3 L434,222.5 L435,222.7 L436,223.0 L437,223.3 L438,223.5 L439,223.8 L440,224.1 L441,224.4 L442,224.8 L443,225.2 L444,225.6 L445,225.9 L446,226.1 L447,226.1 L448,225.9 L449,225.5 L450,225.0 L451,224.4 L452,223.7 L453,223.1 L454,222.5 L455,222.0 L456,221.5 L457,221.0 L458,220.5 L459,220.0 L460,219.5 L461,219.1 L462,218.7 L463,218.4 L464,218.2 L465,218.2 L466,218.3 L467,218.4 L468,218.6 L469,218.8 L470,219.1 L471,219.3 L472,219.5 L473,219.7 L474,219.9 L475,220.2 L476,220.5 L477,220.8 L478,221.1 L479,221.5 L480,222.2 L481,223.0 L482,223.8 L483,224.5 L484,225.1 L485,225.2 L486,224.7 L487,223.6 L488,222.1 L489,220.1 L490,217.6 L491,214.6 L492,210.8 L493,206.1 L494,200.8 L495,195.4 L496,190.1 L497,185.0 L498,180.0 L499,175.1 L500,170.9 L501,167.6 L502,165.1 L503,163.0 L504,161.6 L505,161.1 L506,161.6 L507,162.4 L508,163.3 L509,164.2 L510,165.1 L511,166.1 L512,167.2 L513,168.4 L514,169.4 L515,170.4 L516,171.1 L517,171.7 L518,172.1 L519,172.5 L520,172.9 L521,173.2 L522,173.5 L523,173.8 L524,174.1 L525,174.4 L526,174.7 L527,175.0 L528,175.3 L529,175.6 L530,175.9 L531,176.2 L532,176.5 L533,176.8 L534,177.1 L535,177.3 L536,177.5 L537,177.6 L538,177.9 L539,178.4 L540,179.2 L541,180.4 L542,182.1 L543,184.1 L544,186.1 L545,188.1 L546,190.1 L547,192.1 L548,194.1 L549,196.1 L550,198.1 L551,200.2 L552,202.3 L553,204.6 L554,206.9 L555,209.1 L556,211.3 L557,213.7 L558,216.1 L559,219.0 L560,222.7 L561,227.1 L562,232.1 L563,237.4 L564,242.8 L565,248.1 L566,253.4 L567,258.8 L568,264.1 L569,268.8 L570,272.4 L571,275.1 L572,277.1 L573,278.7 L574,280.0 L575,280.9 L576,281.3 L577,281.1 L578,280.6 L579,279.9 L580,279.2 L581,278.5 L582,277.8 L583,277.0 L584,276.4 L585,275.9 L586,275.5 L587,275.2 L588,274.9 L589,274.6 L590,274.3 L591,274.0 L592,273.7 L593,273.4 L594,273.1 L595,272.8 L596,272.5 L597,272.2 L598,271.9 L599,271.6 L600,271.3 L601,271.0 L602,270.7 L603,270.4 L604,270.1 L605,269.9 L606,269.6 L607,269.3 L608,269.0 L609,268.7 L610,268.5 L611,268.5 L612,268.7 L613,269.2 L614,269.9 L615,270.9 L616,272.1 L617,273.6 L618,275.5 L619,277.4 L620,279.4 L621,281.4 L622,283.1 L623,284.7 L624,286.3 L625,287.8 L626,289.2 L627,290.6 L628,291.7 L629,292.6 L630,293.3 L631,293.7 L632,294.0 L633,294.1 L634,294.2 L635,294.1 L636,294.0 L637,293.9 L638,293.7 L639,293.4 L640,292.9 L641,292.2 L642,291.1 L643,289.8 L644,288.5 L645,287.2 L646,285.8 L647,284.5 L648,283.1 L649,281.7 L650,280.2 L651,278.8 L652,277.3 L653,275.9 L654,274.5 L655,273.5 L656,273.1 L657,273.2 L658,273.7 L659,274.5 L660,275.5 L661,276.7 L662,277.9 L663,279.0 L664,280.1 L665,281.2 L666,282.3 L667,283.4 L668,284.3 L669,285.0 L670,285.5 L671,285.6 L672,285.2 L673,284.6 L674,283.8 L675,282.9 L676,282.1 L677,281.3 L678,280.3 L679,279.3 L680,278.4 L681,277.4 L682,276.5 L683,275.7 L684,275.1 L685,274.6 L686,274.2 L687,273.8 L688,273.4 L689,273.2 L690,272.9 L691,272.7 L692,272.5 L693,272.3 L694,272.1 L695,272.0 L696,271.9 L697,271.8 L698,271.7 L699,271.7 L700,271.8 L701,272.0 L702,272.3 L703,272.6 L704,272.9 L705,273.1 L706,273.3 L707,273.4 L708,273.4 L709,273.4 L710,273.2 L711,272.9 L712,272.5 L713,271.9 L714,271.1 L715,270.2 L716,269.1 L717,268.1 L718,267.0 L719,265.7 L720,264.4 L721,263.2 L722,262.1 L723,261.2 L724,260.4 L725,259.7 L726,259.2 L727,258.8 L728,258.5 L729,258.3 L730,258.3 L731,258.2 L732,258.3 L733,258.3 L734,258.3 L735,258.2 L736,258.1 L737,257.9 L738,257.8 L739,257.5 L740,257.3 L741,256.9 L742,256.5 L743,255.9 L744,255.0 L745,254.0 L746,252.9 L747,251.9 L748,251.1 L749,250.4 L750,249.8 L751,249.4 L752,249.3 L753,249.4 L754,249.8 L755,250.4 L756,251.2 L757,252.1 L758,253.1 L759,254.2 L760,255.4 L761,256.7 L762,258.0 L763,259.2 L764,260.1 L765,260.8 L766,261.4 L767,261.9 L768,262.3 L769,262.6 L770,262.9 L771,263.1 L772,263.2 L773,263.2 L774,263.1 L775,263.1 L776,263.1 L777,263.2 L778,263.5 L779,264.0 L780,264.6 L781,265.5 L782,266.5 L783,267.7 L784,269.1 L785,270.7 L786,272.6 L787,274.5 L788,276.4 L789,278.1 L790,279.5 L791,280.8 L792,282.0 L793,282.9 L794,283.7 L795,284.3 L796,284.7 L797,284.9 L798,284.8 L799,284.5 L800,284.0 L801,283.5 L802,283.0 L803,282.4 L804,281.7 L805,281.0 L806,280.3 L807,279.6 L808,278.9 L809,278.1" stroke="#CA711E" stroke-width="1" stroke-dasharray="3 1"/>
<path d="M100,272.1 L101,273.2 L102,274.4 L103,275.6 L104,276.8 L105,278.0 L106,279.3 L107,280.6 L108,281.8 L109,283.0 L110,284.0 L111,285.0 L112,285.8 L113,286.4 L114,286.8 L115,287.2 L116,287.5 L117,287.7 L118,287.9 L119,288.1 L120,288.2 L121,288.2 L122,288.3 L123,288.3 L124,288.2 L125,288.1 L126,287.9 L127,287.3" stroke="#000000" stroke-width="1"/>
</g>
<g shape-rendering="crispEdges" stroke="#000" stroke-width="1" fill="none">
<line x1="92" y1="51.5" x2="816" y2="51.5"/>
<line x1="86" y1="423.5" x2="816" y2="423.5"/>
<line x1="92.5" y1="51" x2="92.5" y2="430"/>
<line x1="815.5" y1="51" x2="815.5" y2="430"/>
<line x1="86" y1="51.5" x2="93" y2="51.5"/>
<line x1="152.5" y1="417" x2="152.5" y2="430"/>
<line x1="152.5" y1="51" x2="152.5" y2="58"/>
<line x1="213.5" y1="417" x2="213.5" y2="430"/>
<line x1="213.5" y1="51" x2="213.5" y2="58"/>
<line x1="273.5" y1="417" x2="273.5" y2="430"/>
<line x1="273.5" y1="51" x2="273.5" y2="58"/>
<line x1="333.5" y1="417" x2="333.5" y2="430"/>
<line x1="333.5" y1="51" x2="333.5" y2="58"/>
<line x1="393.5" y1="417" x2="393.5" y2="430"/>
<line x1="393.5" y1="51" x2="393.5" y2="58"/>
<line x1="454.5" y1="417" x2="454.5" y2="430"/>
<line x1="454.5" y1="51" x2="454.5" y2="58"/>
<line x1="514.5" y1="417" x2="514.5" y2="430"/>
<line x1="514.5" y1="51" x2="514.5" y2="58"/>
<line x1="574.5" y1="417" x2="574.5" y2="430"/>
<line x1="574.5" y1="51" x2="574.5" y2="58"/>
<line x1="635.5" y1="417" x2="635.5" y2="430"/>
<line x1="635.5" y1="51" x2="635.5" y2="58"/>
<line x1="695.5" y1="417" x2="695.5" y2="430"/>
<line x1="695.5" y1="51" x2="695.5" y2="58"/>
<line x1="755.5" y1="417" x2="755.5" y2="430"/>
<line x1="755.5" y1="51" x2="755.5" y2="58"/>
<line x1="89" y1="409.5" x2="96" y2="409.5"/>
<line x1="812" y1="409.5" x2="816" y2="409.5"/>
<line x1="89" y1="396.5" x2="96" y2="396.5"/>
<line x1="812" y1="396.5" x2="816" y2="396.5"/>
<line x1="89" y1="383.5" x2="96" y2="383.5"/>
<line x1="812" y1="383.5" x2="816" y2="383.5"/>
<line x1="86" y1="369.5" x2="99" y2="369.5"/>
<line x1="809" y1="369.5" x2="816" y2="369.5"/>
<line x1="89" y1="356.5" x2="96" y2="356.5"/>
<line x1="812" y1="356.5" x2="816" y2="356.5"/>
<line x1="89" y1="343.5" x2="96" y2="343.5"/>
<line x1="812" y1="343.5" x2="816" y2="343.5"/>
<line x1="89" y1="330.5" x2="96" y2="330.5"/>
<line x1="812" y1="330.5" x2="816" y2="330.5"/>
<line x1="86" y1="316.5" x2="99" y2="316.5"/>
<line x1="809" y1="316.5" x2="816" y2="316.5"/>
<line x1="89" y1="303.5" x2="96" y2="303.5"/>
<line x1="812" y1="303.5" x2="816" y2="303.5"/>
<line x1="89" y1="290.5" x2="96" y2="290.5"/>
<line x1="812" y1="290.5" x2="816" y2="290.5"/>
<line x1="89" y1="277.5" x2="96" y2="277.5"/>
<line x1="812" y1="277.5" x2="816" y2="277.5"/>
<line x1="86" y1="263.5" x2="99" y2="263.5"/>
<line x1="809" y1="263.5" x2="816" y2="263.5"/>
<line x1="89" y1="250.5" x2="96" y2="250.5"/>
<line x1="812" y1="250.5" x2="816" y2="250.5"/>
<line x1="89" y1="237.5" x2="96" y2="237.5"/>
<line x1="812" y1="237.5" x2="816" y2="237.5"/>
<line x1="89" y1="223.5" x2="96" y2="223.5"/>
<line x1="812" y1="223.5" x2="816" y2="223.5"/>
<line x1="86" y1="210.5" x2="99" y2="210.5"/>
<line x1="809" y1="210.5" x2="816" y2="210.5"/>
<line x1="89" y1="197.5" x2="96" y2="197.5"/>
<line x1="812" y1="197.5" x2="816" y2="197.5"/>
<line x1="89" y1="184.5" x2="96" y2="184.5"/>
<line x1="812" y1="184.5" x2="816" y2="184.5"/>
<line x1="89" y1="170.5" x2="96" y2="170.5"/>
<line x1="812" y1="170.5" x2="816" y2="170.5"/>
<line x1="86" y1="157.5" x2="99" y2="157.5"/>
<line x1="809" y1="157.5" x2="816" y2="157.5"/>
<line x1="89" y1="144.5" x2="96" y2="144.5"/>
<line x1="812" y1="144.5" x2="816" y2="144.5"/>
<line x1="89" y1="131.5" x2="96" y2="131.5"/>
<line x1="812" y1="131.5" x2="816" y2="131.5"/>
<line x1="89" y1="117.5" x2="96" y2="117.5"/>
<line x1="812" y1="117.5" x2="816" y2="117.5"/>
<line x1="86" y1="104.5" x2="99" y2="104.5"/>
<line x1="809" y1="104.5" x2="816" y2="104.5"/>
<line x1="89" y1="91.5" x2="96" y2="91.5"/>
<line x1="812" y1="91.5" x2="816" y2="91.5"/>
<line x1="89" y1="77.5" x2="96" y2="77.5"/>
<line x1="812" y1="77.5" x2="816" y2="77.5"/>
<line x1="89" y1="64.5" x2="96" y2="64.5"/>
<line x1="812" y1="64.5" x2="816" y2="64.5"/>
</g>
<rect x="844.5" y="51.5" width="163" height="166" fill="#FFFFFF" stroke="#000" stroke-width="1" shape-rendering="crispEdges"/>
<g shape-rendering="crispEdges" fill="none">
<line x1="848" y1="59.5" x2="878" y2="59.5" stroke="#CA711E" stroke-width="1" stroke-dasharray="3 1"/>
<line x1="848" y1="76.5" x2="878" y2="76.5" stroke="#000000" stroke-width="1"/>
<line x1="848" y1="92.5" x2="878" y2="92.5" stroke="#0000FF" stroke-width="1" stroke-dasharray="3 1 1 1 1 1"/>
<line x1="848" y1="110" x2="878" y2="110" stroke="#FFFF00" stroke-width="2" stroke-dasharray="6 2 2 2 2 2"/>
<rect x="848" y="122" width="30" height="8" fill="url(#gvlow)"/>
<line x1="848" y1="126.5" x2="878" y2="126.5" stroke="#FFA07A" stroke-width="1"/>
<rect x="848" y="139" width="30" height="8" fill="url(#glow)"/>
<line x1="848" y1="142.5" x2="878" y2="142.5" stroke="#DEB887" stroke-width="1"/>
<rect x="848" y="155" width="30" height="9" fill="url(#gmlow)"/>
<line x1="848" y1="159.5" x2="878" y2="159.5" stroke="#FFE4C4" stroke-width="1"/>
<rect x="848" y="172" width="30" height="8" fill="url(#gnormal)"/>
<line x1="848" y1="176.5" x2="878" y2="176.5" stroke="#90EE90" stroke-width="1"/>
<rect x="848" y="188" width="30" height="9" fill="url(#gmhigh)"/>
<line x1="848" y1="192.5" x2="878" y2="192.5" stroke="#7FFFD4" stroke-width="1"/>
<rect x="848" y="205" width="30" height="8" fill="url(#ghigh)"/>
<line x1="848" y1="209.5" x2="878" y2="209.5" stroke="#0000FF" stroke-width="1" stroke-dasharray="3 1 1 1 1 1"/>
<line x1="847" y1="159.5" x2="848" y2="159.5" stroke="#FFE4C4" stroke-width="1"/>
</g>
<g font-family="Liberation Sans, sans-serif" fill="#000">
<text x="886.5" y="63.00" font-size="13.0" letter-spacing="0.14">Last Year</text>
<text x="886.5" y="79.67" font-size="13.0" letter-spacing="0.11">This Year</text>
<text x="886.5" y="96.33" font-size="13.0" letter-spacing="0.34">Absolute Maximum</text>
<text x="886.5" y="113.00" font-size="13.0" letter-spacing="0.28">Absolute Minimum</text>
<text x="886.5" y="129.67" font-size="13.0" letter-spacing="0.11">Very Low</text>
<text x="886.5" y="146.34" font-size="13.0" letter-spacing="0.3">Low</text>
<text x="886.5" y="163.00" font-size="13.0" letter-spacing="0.22">Moderately Low</text>
<text x="886.5" y="179.67" font-size="13.0" letter-spacing="0.25">Normal</text>
<text x="886.5" y="196.34" font-size="13.0" letter-spacing="0.2">Moderately High</text>
<text x="886.5" y="213.00" font-size="13.0" letter-spacing="0.28">High</text>
<text x="508.3" y="31.3" font-size="20.6" font-weight="bold" text-anchor="middle">Q1R001</text>
<text x="454" y="480.7" font-size="17.95" font-weight="bold" text-anchor="middle">Month</text>
<text transform="translate(29.4,236.2) rotate(-90)" font-size="17.95" font-weight="bold" text-anchor="middle">% Storage</text>
<text x="122.62" y="452" font-size="17.8" text-anchor="middle">Oct</text>
<text x="182.88" y="452" font-size="17.8" text-anchor="middle">Nov</text>
<text x="243.12" y="452" font-size="17.8" text-anchor="middle">Dec</text>
<text x="303.38" y="452" font-size="17.8" text-anchor="middle">Jan</text>
<text x="363.62" y="452" font-size="17.8" text-anchor="middle">Feb</text>
<text x="423.88" y="452" font-size="17.8" text-anchor="middle">Mar</text>
<text x="484.12" y="452" font-size="17.8" text-anchor="middle">Apr</text>
<text x="544.38" y="452" font-size="17.8" text-anchor="middle">May</text>
<text x="604.62" y="452" font-size="17.8" text-anchor="middle">Jun</text>
<text x="664.88" y="452" font-size="17.8" text-anchor="middle">Jul</text>
<text x="725.12" y="452" font-size="17.8" text-anchor="middle">Aug</text>
<text x="785.38" y="452" font-size="17.8" text-anchor="middle">Sep</text>
<text x="60.7" y="427.98" font-size="17.8" text-anchor="middle">0</text>
<text x="60.7" y="374.90" font-size="17.8" text-anchor="middle">20</text>
<text x="60.7" y="321.82" font-size="17.8" text-anchor="middle">40</text>
<text x="60.7" y="268.74" font-size="17.8" text-anchor="middle">60</text>
<text x="60.7" y="215.66" font-size="17.8" text-anchor="middle">80</text>
<text x="60.7" y="162.58" font-size="17.8" text-anchor="middle">100</text>
<text x="60.7" y="109.50" font-size="17.8" text-anchor="middle">120</text>
<text x="60.7" y="56.42" font-size="17.8" text-anchor="middle">140</text>
</g>
</svg>
</body></html>
